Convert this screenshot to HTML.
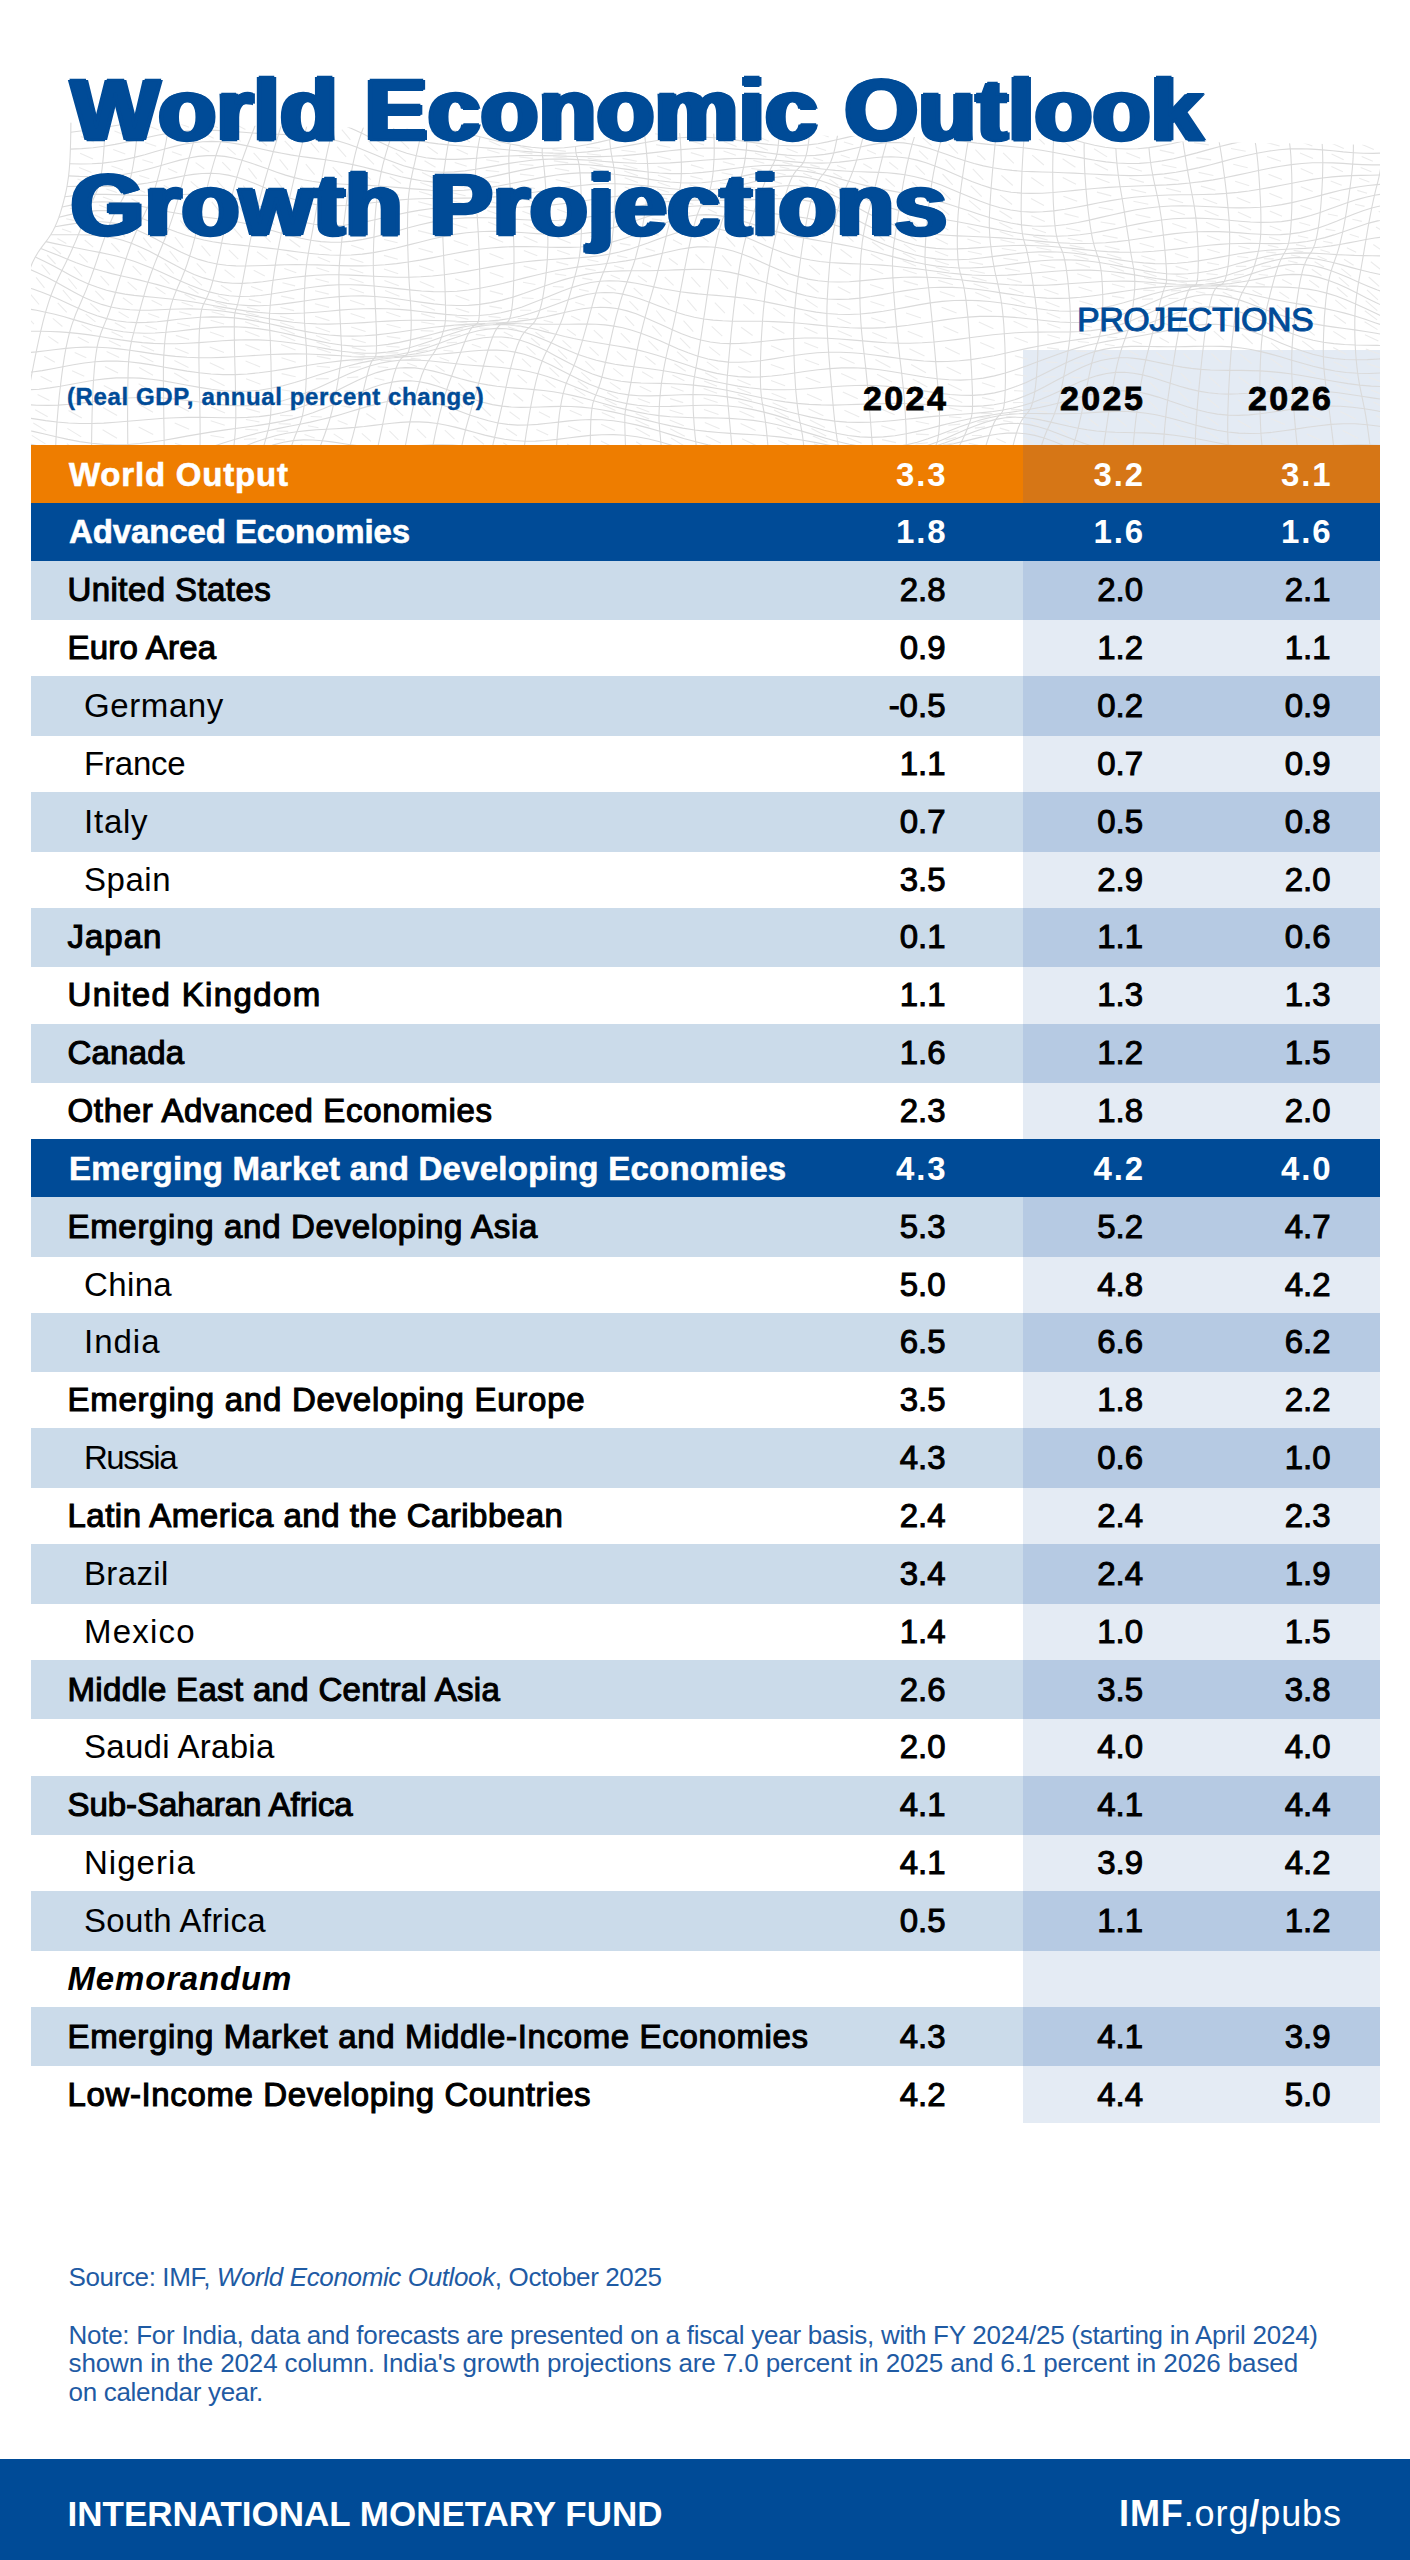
<!DOCTYPE html><html><head><meta charset="utf-8"><style>
*{margin:0;padding:0;box-sizing:border-box}
html,body{width:1410px;height:2560px;overflow:hidden;background:#fff;font-family:"Liberation Sans",sans-serif;color:#000}
.a{position:absolute;white-space:nowrap}
.band{position:absolute;left:31px;width:1349px}
.pb{position:absolute;left:1023px;width:357px}
.row{position:absolute;left:0;width:1410px;height:57.845px;line-height:57.845px;font-size:33px}
.lab{position:absolute;left:67.5px;top:0}
.orange .lab,.blue .lab{left:69px}
.l2 .lab{left:84px}
.n{position:absolute;top:0;text-align:right;width:120px}
.c1{left:825.5px} .c2{left:1023px} .c3{left:1210.5px}
.orange .lab,.blue .lab,.orange .n,.blue .n{color:#fff;font-weight:bold}
.orange .n,.blue .n{letter-spacing:1.8px;margin-left:1.8px}
.l1 .lab{-webkit-text-stroke:1.1px #000}
.l1 .n,.l2 .n{-webkit-text-stroke:1px #000}
.memo .lab{font-weight:bold;font-style:italic}
.orange .lab,.blue .lab{-webkit-text-stroke:0.6px #fff}
</style></head><body>
<div class="a" style="left:1023px;top:350px;width:357px;height:1772.5px;background:#E4EBF4"></div>
<svg class="a" style="left:0;top:0" width="1410" height="450" viewBox="0 0 1410 450"><defs><clipPath id="cp"><polygon points="31,122 1380,145 1380,445 31,445"/></clipPath></defs><g clip-path="url(#cp)" fill="none" stroke="#dadada" stroke-width="1.1"><polyline points="71.0,97.3 82.6,95.2 94.2,93.7 105.7,92.7 117.2,92.4 128.6,92.7 140.0,93.6 151.2,94.8 162.3,96.2 173.3,97.7 184.1,99.0 194.8,100.1 205.4,100.7 215.7,100.8 225.9,100.4 236.0,99.5 245.9,98.3 255.6,96.8 265.1,95.3 274.5,93.9 283.8,92.7 292.9,92.1 301.9,92.0 310.7,92.6 319.5,93.8 328.2,95.7 336.8,98.1 345.4,100.8 354.0,103.9 362.5,107.0 371.1,110.1 379.6,113.0 388.2,115.8 396.9,118.2 405.6,120.4 414.5,122.4 423.4,124.3 432.5,126.1 441.7,128.0 451.0,130.0 460.5,132.1 470.1,134.4 480.0,136.8 489.9,139.3 500.1,141.8 510.4,144.0 520.9,145.9 531.5,147.3 542.3,148.2 553.2,148.3 564.3,147.8 575.5,146.5 586.8,144.7 598.1,142.4 609.6,139.7 621.1,137.0 632.7,134.3 644.3,131.9 655.9,129.9 667.5,128.5 679.0,127.7 690.5,127.4 702.0,127.8 713.4,128.5 724.6,129.5 735.8,130.6 746.8,131.6 757.7,132.4 768.5,132.9 779.1,132.9 789.5,132.3 799.8,131.4 809.9,130.0 819.8,128.3 829.6,126.5 839.2,124.6 848.7,122.9 858.0,121.5 867.2,120.4 876.2,119.7 885.1,119.4 893.9,119.4 902.6,119.7 911.3,120.2 919.9,120.8 928.5,121.3 937.0,121.7 945.5,121.9 954.1,122.0 962.7,121.9 971.3,121.8 980.0,121.6 988.8,121.7 997.7,122.0 1006.7,122.7 1015.9,123.9 1025.2,125.6 1034.6,127.8 1044.2,130.5 1053.9,133.5 1063.8,136.6 1073.9,139.8 1084.2,142.7 1094.6,145.3 1105.1,147.2 1115.9,148.5 1126.7,149.0 1137.8,148.7 1148.9,147.6 1160.1,145.9 1171.5,143.7 1182.9,141.2 1194.4,138.6 1206.0,136.1 1217.6,133.8 1229.2,131.9 1240.8,130.4 1252.3,129.4 1263.9,128.8 1275.4,128.7 1286.8,128.7 1298.1,128.9 1309.3,129.2 1320.3,129.3 1331.3,129.1 1342.1,128.8 1352.8,128.1 1363.3,127.2 1373.6,126.2 1383.8,125.1 1393.8,124.0 1403.6,123.1 1413.3,122.5"/><polyline points="71.0,114.2 82.5,112.2 94.0,110.3 105.5,108.7 116.9,107.5 128.1,106.8 139.3,106.5 150.3,106.7 161.2,107.3 171.9,108.2 182.5,109.2 192.9,110.1 203.2,110.9 213.3,111.4 223.2,111.5 233.0,111.1 242.6,110.3 252.0,109.1 261.3,107.7 270.5,106.1 279.5,104.6 288.4,103.5 297.2,102.7 305.9,102.6 314.6,103.3 323.2,104.7 331.8,106.8 340.3,109.7 348.9,113.2 357.5,117.0 366.1,121.1 374.8,125.2 383.5,129.1 392.4,132.8 401.3,135.9 410.4,138.6 419.6,140.8 428.9,142.6 438.4,143.9 448.0,144.9 457.9,145.7 467.8,146.5 478.0,147.2 488.3,148.1 498.7,149.0 509.4,150.0 520.2,151.0 531.1,151.9 542.2,152.7 553.3,153.1 564.6,153.2 576.0,152.8 587.5,151.9 599.1,150.6 610.6,148.8 622.2,146.8 633.9,144.6 645.5,142.5 657.1,140.5 668.6,138.9 680.1,137.7 691.5,137.1 702.8,137.1 714.0,137.7 725.1,138.7 736.0,140.1 746.8,141.6 757.5,143.1 768.0,144.4 778.3,145.3 788.4,145.8 798.4,145.7 808.2,144.9 817.9,143.7 827.4,141.9 836.7,139.8 846.0,137.6 855.0,135.5 864.0,133.5 872.8,131.9 881.6,130.8 890.3,130.3 898.9,130.4 907.5,131.0 916.1,132.1 924.6,133.6 933.2,135.3 941.8,137.1 950.4,138.8 959.2,140.4 968.0,141.9 976.9,143.1 985.9,144.1 995.0,145.0 1004.3,145.9 1013.7,146.8 1023.3,147.8 1033.1,149.0 1043.0,150.5 1053.0,152.3 1063.3,154.2 1073.7,156.3 1084.3,158.4 1095.0,160.3 1105.9,161.9 1116.9,163.0 1128.0,163.5 1139.3,163.4 1150.6,162.5 1162.1,160.9 1173.6,158.7 1185.2,155.9 1196.8,152.9 1208.4,149.6 1220.0,146.5 1231.6,143.6 1243.2,141.1 1254.7,139.2 1266.1,137.9 1277.5,137.3 1288.7,137.2 1299.8,137.5 1310.8,138.2 1321.7,139.0 1332.4,139.8 1342.9,140.5 1353.3,140.8 1363.5,140.8 1373.6,140.3 1383.5,139.4 1393.2,138.2 1402.8,136.7 1412.2,135.1"/><polyline points="70.8,132.2 82.3,130.8 93.7,129.1 105.0,127.3 116.2,125.5 127.2,123.8 138.2,122.3 149.0,121.1 159.6,120.3 170.1,119.8 180.4,119.7 190.5,119.9 200.5,120.3 210.3,120.7 219.9,121.1 229.4,121.3 238.7,121.2 247.9,120.9 257.0,120.4 266.0,119.6 274.8,118.7 283.6,117.9 292.3,117.2 300.9,117.0 309.5,117.2 318.1,118.1 326.7,119.8 335.3,122.2 343.9,125.2 352.6,128.9 361.4,133.0 370.2,137.4 379.2,141.8 388.2,146.1 397.4,149.9 406.7,153.2 416.2,155.8 425.9,157.7 435.7,158.9 445.6,159.4 455.8,159.4 466.1,158.9 476.6,158.2 487.2,157.3 498.0,156.6 508.9,156.0 520.0,155.6 531.1,155.5 542.5,155.6 553.9,155.8 565.3,156.2 576.9,156.5 588.5,156.6 600.1,156.6 611.8,156.2 623.4,155.6 635.0,154.6 646.6,153.4 658.1,152.1 669.5,150.8 680.9,149.6 692.1,148.7 703.2,148.1 714.2,148.0 725.1,148.3 735.8,149.1 746.3,150.1 756.7,151.4 766.9,152.8 776.9,154.1 786.8,155.1 796.5,155.7 806.0,155.8 815.4,155.4 824.7,154.4 833.8,152.9 842.8,151.1 851.7,149.0 860.5,147.0 869.2,145.1 877.8,143.6 886.4,142.7 895.0,142.5 903.6,142.9 912.2,144.2 920.8,146.1 929.5,148.5 938.2,151.4 947.0,154.5 955.9,157.7 965.0,160.7 974.1,163.5 983.4,165.9 992.8,167.8 1002.4,169.3 1012.1,170.4 1022.0,171.2 1032.1,171.6 1042.3,172.0 1052.7,172.3 1063.3,172.7 1074.0,173.1 1084.9,173.7 1095.9,174.3 1107.1,174.9 1118.3,175.3 1129.7,175.6 1141.1,175.5 1152.7,174.9 1164.3,173.9 1175.9,172.3 1187.5,170.1 1199.2,167.6 1210.8,164.7 1222.4,161.6 1233.9,158.5 1245.4,155.7 1256.8,153.2 1268.0,151.2 1279.2,149.7 1290.3,148.9 1301.2,148.8 1311.9,149.1 1322.5,149.9 1332.9,150.8 1343.2,151.9 1353.3,152.7 1363.2,153.3 1373.0,153.4 1382.6,153.0 1392.1,152.1 1401.4,150.6 1410.5,148.7"/><polyline points="70.4,149.1 81.7,148.6 93.0,147.7 104.1,146.2 115.1,144.4 125.9,142.2 136.6,139.9 147.1,137.5 157.4,135.3 167.6,133.4 177.6,131.9 187.5,130.9 197.2,130.3 206.7,130.2 216.1,130.4 225.3,130.9 234.4,131.6 243.4,132.3 252.3,133.0 261.1,133.5 269.8,134.0 278.5,134.3 287.1,134.6 295.7,134.9 304.3,135.4 313.0,136.2 321.6,137.4 330.3,139.1 339.1,141.3 347.9,144.1 356.9,147.3 366.0,150.9 375.2,154.8 384.5,158.7 394.0,162.3 403.6,165.7 413.4,168.4 423.4,170.5 433.5,171.7 443.8,172.2 454.3,171.9 464.9,170.9 475.7,169.3 486.6,167.4 497.7,165.4 508.9,163.4 520.2,161.7 531.6,160.3 543.1,159.4 554.6,159.0 566.3,159.1 577.9,159.6 589.6,160.3 601.2,161.2 612.9,162.1 624.5,162.8 636.0,163.3 647.5,163.5 658.9,163.3 670.1,162.9 681.3,162.1 692.3,161.3 703.2,160.3 714.0,159.5 724.5,158.9 735.0,158.5 745.2,158.4 755.3,158.7 765.2,159.3 775.0,160.1 784.6,161.0 794.0,161.9 803.3,162.6 812.4,163.0 821.5,163.1 830.4,162.8 839.2,162.1 848.0,161.1 856.7,160.0 865.3,158.8 873.9,157.7 882.5,157.0 891.1,156.8 899.8,157.2 908.5,158.3 917.2,160.1 926.0,162.7 934.9,165.9 944.0,169.6 953.1,173.6 962.4,177.6 971.8,181.5 981.4,185.1 991.1,188.1 1001.0,190.5 1011.1,192.2 1021.3,193.1 1031.7,193.4 1042.3,193.2 1053.0,192.5 1063.9,191.5 1074.9,190.4 1086.0,189.3 1097.3,188.3 1108.7,187.4 1120.1,186.8 1131.7,186.3 1143.3,185.8 1154.9,185.4 1166.6,184.9 1178.2,184.1 1189.9,183.0 1201.5,181.6 1213.1,179.9 1224.6,177.8 1236.0,175.4 1247.3,173.0 1258.5,170.5 1269.6,168.2 1280.5,166.2 1291.3,164.6 1302.0,163.5 1312.5,162.8 1322.8,162.7 1332.9,162.9 1342.9,163.4 1352.7,164.1 1362.4,164.6 1371.9,164.9 1381.2,164.9 1390.4,164.4 1399.5,163.3 1408.5,161.6"/><polyline points="69.7,163.7 80.8,164.0 91.9,163.8 102.7,163.1 113.5,161.7 124.0,159.8 134.4,157.4 144.7,154.7 154.7,151.8 164.6,149.0 174.4,146.4 183.9,144.3 193.4,142.7 202.6,141.7 211.8,141.4 220.8,141.8 229.7,142.7 238.6,144.1 247.3,145.9 256.0,147.8 264.7,149.7 273.3,151.6 281.9,153.3 290.6,154.9 299.2,156.2 307.9,157.4 316.7,158.6 325.6,159.8 334.6,161.2 343.6,162.8 352.8,164.6 362.2,166.7 371.6,169.1 381.3,171.6 391.1,174.2 401.0,176.7 411.2,178.9 421.4,180.7 431.9,181.9 442.5,182.4 453.3,182.3 464.2,181.4 475.3,179.9 486.5,177.8 497.8,175.4 509.2,172.9 520.7,170.4 532.3,168.1 543.9,166.3 555.6,165.0 567.3,164.4 579.0,164.4 590.6,165.0 602.3,166.1 613.8,167.5 625.4,169.1 636.8,170.6 648.1,172.0 659.3,173.0 670.4,173.6 681.3,173.6 692.1,173.2 702.7,172.4 713.2,171.2 723.5,169.9 733.6,168.5 743.6,167.2 753.4,166.2 763.0,165.5 772.5,165.2 781.8,165.4 791.0,165.8 800.1,166.6 809.1,167.5 817.9,168.5 826.7,169.5 835.4,170.4 844.1,171.0 852.7,171.5 861.4,171.8 870.0,172.1 878.6,172.4 887.3,172.8 896.1,173.6 904.9,174.8 913.8,176.5 922.9,178.8 932.0,181.7 941.3,185.1 950.7,188.9 960.3,193.0 970.0,197.1 979.9,201.1 990.0,204.7 1000.2,207.7 1010.6,210.0 1021.1,211.5 1031.9,212.1 1042.7,211.8 1053.8,210.9 1064.9,209.3 1076.2,207.3 1087.5,205.1 1099.0,202.8 1110.6,200.6 1122.2,198.8 1133.8,197.3 1145.5,196.2 1157.2,195.5 1168.9,195.0 1180.5,194.8 1192.1,194.7 1203.7,194.5 1215.1,194.1 1226.5,193.4 1237.7,192.4 1248.8,191.0 1259.8,189.3 1270.7,187.4 1281.4,185.3 1291.9,183.2 1302.3,181.2 1312.4,179.4 1322.5,178.0 1332.3,176.9 1342.0,176.1 1351.6,175.6 1361.0,175.4 1370.2,175.2 1379.4,175.0 1388.4,174.7 1397.3,174.0 1406.1,173.0"/><polyline points="68.6,175.9 79.5,176.4 90.3,176.6 100.9,176.5 111.3,175.9 121.6,174.7 131.7,173.0 141.7,170.8 151.4,168.2 161.1,165.5 170.5,162.7 179.9,160.1 189.0,158.0 198.1,156.4 207.1,155.6 215.9,155.6 224.7,156.4 233.5,158.0 242.1,160.2 250.8,162.9 259.4,166.0 268.1,169.1 276.8,172.2 285.5,175.1 294.3,177.6 303.2,179.7 312.1,181.3 321.2,182.6 330.4,183.4 339.7,184.0 349.2,184.5 358.8,184.9 368.6,185.4 378.6,186.0 388.7,186.8 399.0,187.6 409.5,188.6 420.1,189.4 430.9,190.2 441.8,190.6 452.9,190.7 464.1,190.3 475.4,189.3 486.8,187.9 498.3,186.0 509.9,183.8 521.5,181.5 533.2,179.1 544.9,176.9 556.6,175.0 568.3,173.6 580.0,172.9 591.6,172.7 603.1,173.2 614.6,174.3 625.9,175.7 637.2,177.4 648.3,179.1 659.3,180.7 670.1,182.0 680.8,182.8 691.3,183.0 701.6,182.7 711.8,181.7 721.8,180.2 731.7,178.4 741.4,176.4 750.9,174.4 760.3,172.7 769.5,171.2 778.6,170.3 787.6,170.0 796.5,170.3 805.3,171.2 814.1,172.6 822.8,174.5 831.4,176.6 840.1,178.9 848.7,181.3 857.4,183.5 866.1,185.6 874.9,187.6 883.7,189.4 892.6,191.1 901.7,192.8 910.8,194.6 920.1,196.6 929.5,198.8 939.1,201.4 948.8,204.3 958.7,207.5 968.8,210.8 979.0,214.2 989.4,217.5 999.9,220.5 1010.7,223.0 1021.5,224.9 1032.5,226.0 1043.7,226.3 1055.0,225.7 1066.4,224.5 1077.8,222.5 1089.4,220.1 1101.0,217.4 1112.7,214.7 1124.4,212.1 1136.1,209.8 1147.8,208.0 1159.5,206.7 1171.1,206.0 1182.7,205.8 1194.2,206.0 1205.5,206.5 1216.8,207.0 1228.0,207.6 1239.0,207.9 1249.9,207.8 1260.7,207.2 1271.2,206.2 1281.6,204.6 1291.9,202.6 1302.0,200.2 1311.9,197.7 1321.6,195.1 1331.2,192.6 1340.6,190.3 1349.9,188.4 1359.1,186.8 1368.1,185.5 1377.1,184.6 1385.9,183.9 1394.7,183.4 1403.4,182.9"/><polyline points="67.0,186.5 77.6,186.4 88.1,186.5 98.4,186.5 108.6,186.4 118.6,186.1 128.4,185.4 138.1,184.4 147.6,183.0 157.0,181.3 166.2,179.5 175.3,177.6 184.3,175.8 193.2,174.4 202.0,173.5 210.8,173.2 219.5,173.7 228.2,175.1 236.9,177.2 245.5,179.9 254.2,183.3 263.0,187.0 271.8,190.8 280.6,194.5 289.6,197.9 298.7,200.8 307.9,203.1 317.2,204.7 326.7,205.6 336.3,205.8 346.1,205.4 356.1,204.6 366.2,203.5 376.5,202.3 386.9,201.1 397.5,200.1 408.3,199.3 419.3,198.8 430.3,198.5 441.5,198.3 452.8,198.2 464.3,198.1 475.8,197.9 487.4,197.4 499.0,196.6 510.7,195.5 522.5,194.0 534.2,192.3 545.9,190.5 557.6,188.6 569.2,186.9 580.8,185.5 592.3,184.4 603.7,183.8 615.0,183.8 626.1,184.2 637.2,185.0 648.0,186.1 658.7,187.3 669.3,188.5 679.7,189.5 689.9,190.1 700.0,190.3 709.9,189.8 719.6,188.8 729.2,187.3 738.6,185.4 747.9,183.2 757.1,181.0 766.1,179.0 775.0,177.4 783.9,176.4 792.7,176.1 801.4,176.6 810.1,178.0 818.7,180.1 827.4,182.9 836.1,186.2 844.8,189.9 853.6,193.8 862.4,197.6 871.4,201.3 880.4,204.7 889.6,207.8 898.8,210.4 908.3,212.7 917.8,214.8 927.6,216.6 937.4,218.3 947.5,220.0 957.7,221.8 968.1,223.7 978.7,225.8 989.4,227.9 1000.2,230.0 1011.3,232.0 1022.4,233.7 1033.7,235.1 1045.1,235.9 1056.6,236.2 1068.1,235.8 1079.8,234.8 1091.4,233.2 1103.2,231.1 1114.9,228.8 1126.6,226.3 1138.3,223.9 1150.0,221.8 1161.6,220.0 1173.1,218.8 1184.5,218.2 1195.9,218.1 1207.1,218.5 1218.1,219.3 1229.1,220.3 1239.9,221.2 1250.5,222.0 1260.9,222.4 1271.2,222.3 1281.4,221.6 1291.3,220.1 1301.1,218.1 1310.7,215.5 1320.2,212.4 1329.6,209.1 1338.8,205.8 1347.8,202.6 1356.8,199.6 1365.7,197.2 1374.5,195.2 1383.3,193.8 1392.0,193.0 1400.6,192.7"/><polyline points="64.8,196.7 75.2,195.5 85.4,194.8 95.5,194.4 105.3,194.4 115.0,194.6 124.6,194.9 134.0,195.2 143.3,195.4 152.4,195.5 161.5,195.3 170.4,195.0 179.3,194.7 188.1,194.3 196.8,194.1 205.5,194.2 214.2,194.7 222.9,195.7 231.6,197.3 240.3,199.6 249.2,202.3 258.0,205.6 267.0,209.2 276.1,212.8 285.3,216.4 294.6,219.6 304.1,222.3 313.7,224.2 323.5,225.4 333.5,225.7 343.6,225.2 353.9,224.0 364.3,222.1 374.9,219.8 385.7,217.3 396.6,214.8 407.7,212.4 418.9,210.4 430.2,208.8 441.7,207.7 453.2,207.0 464.8,206.7 476.5,206.8 488.2,206.9 499.9,207.1 511.7,207.2 523.4,207.0 535.1,206.4 546.8,205.6 558.4,204.3 569.9,202.9 581.4,201.2 592.7,199.5 603.9,197.9 615.0,196.5 625.9,195.4 636.6,194.7 647.2,194.3 657.7,194.3 668.0,194.5 678.1,194.9 688.0,195.3 697.8,195.5 707.4,195.5 716.9,195.2 726.2,194.4 735.4,193.3 744.5,191.9 753.5,190.3 762.3,188.7 771.1,187.2 779.9,186.1 788.6,185.5 797.3,185.7 806.0,186.7 814.7,188.6 823.4,191.3 832.2,194.8 841.1,199.0 850.0,203.6 859.1,208.5 868.2,213.4 877.5,218.0 886.9,222.3 896.5,226.0 906.2,229.0 916.1,231.5 926.1,233.2 936.4,234.5 946.7,235.3 957.3,235.9 968.0,236.3 978.9,236.7 989.9,237.3 1001.0,237.9 1012.3,238.8 1023.7,239.8 1035.2,240.9 1046.8,241.9 1058.4,242.7 1070.1,243.3 1081.9,243.5 1093.6,243.3 1105.4,242.7 1117.1,241.6 1128.8,240.2 1140.4,238.5 1152.0,236.8 1163.4,235.1 1174.8,233.6 1186.0,232.5 1197.2,231.7 1208.1,231.5 1219.0,231.6 1229.6,232.1 1240.1,232.9 1250.5,233.7 1260.7,234.3 1270.7,234.7 1280.5,234.6 1290.2,233.9 1299.7,232.6 1309.1,230.5 1318.3,227.9 1327.5,224.7 1336.5,221.2 1345.4,217.5 1354.2,214.0 1363.0,210.8 1371.7,208.0 1380.4,205.9 1389.1,204.6 1397.8,204.1"/><polyline points="62.1,207.0 72.2,204.9 82.1,203.3 91.9,202.2 101.5,201.8 111.0,202.1 120.3,202.9 129.5,204.2 138.5,205.8 147.5,207.6 156.4,209.4 165.2,211.2 174.0,212.8 182.7,214.2 191.4,215.4 200.1,216.5 208.9,217.6 217.6,218.7 226.5,220.0 235.4,221.5 244.3,223.3 253.4,225.4 262.6,227.9 272.0,230.5 281.4,233.2 291.1,235.9 300.9,238.3 310.8,240.2 320.9,241.6 331.2,242.2 341.6,242.1 352.2,241.1 363.0,239.4 373.9,237.1 385.0,234.2 396.2,231.2 407.5,228.0 419.0,225.0 430.5,222.4 442.1,220.3 453.8,218.8 465.5,217.9 477.3,217.6 489.1,217.8 500.8,218.4 512.6,219.1 524.3,219.8 535.9,220.3 547.5,220.5 559.0,220.2 570.3,219.4 581.6,218.1 592.7,216.3 603.6,214.1 614.4,211.8 625.1,209.3 635.6,207.0 645.9,204.9 656.1,203.2 666.0,201.8 675.9,200.9 685.5,200.3 695.0,200.1 704.4,200.1 713.7,200.2 722.8,200.3 731.8,200.3 740.7,200.2 749.5,199.9 758.3,199.5 767.1,199.1 775.8,198.8 784.5,198.7 793.2,199.0 802.0,199.9 810.8,201.4 819.6,203.6 828.6,206.6 837.6,210.3 846.8,214.6 856.1,219.4 865.5,224.4 875.1,229.3 884.8,234.1 894.7,238.4 904.7,242.1 914.9,245.0 925.3,247.1 935.8,248.4 946.5,249.0 957.4,248.9 968.4,248.4 979.6,247.6 990.9,246.7 1002.2,246.0 1013.8,245.5 1025.3,245.4 1037.0,245.7 1048.7,246.3 1060.5,247.3 1072.2,248.4 1084.0,249.6 1095.8,250.7 1107.5,251.6 1119.1,252.1 1130.7,252.3 1142.2,252.0 1153.6,251.3 1164.9,250.3 1176.1,249.1 1187.1,247.8 1198.0,246.5 1208.7,245.3 1219.3,244.4 1229.6,243.8 1239.9,243.5 1249.9,243.4 1259.8,243.5 1269.5,243.6 1279.1,243.6 1288.5,243.3 1297.8,242.6 1307.0,241.5 1316.0,239.8 1325.0,237.6 1333.9,234.9 1342.7,232.0 1351.4,228.9 1360.1,225.9 1368.8,223.1 1377.6,220.9 1386.3,219.3 1395.1,218.5"/><polyline points="58.9,217.2 68.7,214.9 78.3,212.8 87.8,211.4 97.2,210.6 106.4,210.6 115.5,211.5 124.5,213.2 133.5,215.6 142.3,218.6 151.1,221.9 159.9,225.4 168.6,228.9 177.3,232.2 186.1,235.2 194.8,237.8 203.7,240.0 212.6,241.7 221.6,243.1 230.7,244.2 239.9,245.1 249.2,246.0 258.7,247.0 268.3,248.1 278.1,249.3 288.0,250.6 298.1,252.0 308.4,253.2 318.9,254.3 329.5,255.0 340.2,255.3 351.1,255.0 362.2,254.1 373.4,252.6 384.8,250.5 396.2,248.0 407.7,245.1 419.4,242.2 431.1,239.3 442.8,236.6 454.6,234.4 466.4,232.8 478.2,231.7 490.0,231.3 501.7,231.4 513.3,232.0 524.9,232.8 536.4,233.6 547.8,234.3 559.1,234.7 570.3,234.5 581.3,233.8 592.1,232.4 602.8,230.3 613.4,227.6 623.7,224.6 634.0,221.2 644.0,217.8 653.9,214.6 663.6,211.7 673.1,209.3 682.5,207.5 691.8,206.3 701.0,205.8 710.0,205.9 719.0,206.4 727.9,207.4 736.7,208.5 745.4,209.8 754.2,211.1 762.9,212.3 771.6,213.4 780.4,214.5 789.2,215.7 798.1,216.9 807.1,218.3 816.1,220.1 825.3,222.3 834.6,225.0 844.0,228.1 853.5,231.7 863.3,235.7 873.1,239.9 883.2,244.1 893.4,248.1 903.8,251.7 914.3,254.8 925.0,257.3 935.9,258.9 946.9,259.7 958.0,259.8 969.3,259.2 980.7,258.0 992.2,256.6 1003.8,255.1 1015.5,253.7 1027.2,252.5 1039.0,251.9 1050.8,251.8 1062.6,252.2 1074.4,253.2 1086.1,254.7 1097.8,256.4 1109.4,258.3 1121.0,260.1 1132.4,261.7 1143.7,262.9 1154.9,263.6 1166.0,263.7 1176.9,263.2 1187.7,262.3 1198.3,260.9 1208.7,259.2 1219.0,257.4 1229.1,255.5 1239.0,253.8 1248.8,252.4 1258.4,251.2 1267.9,250.3 1277.2,249.7 1286.4,249.2 1295.5,248.8 1304.5,248.4 1313.4,247.8 1322.2,247.0 1331.0,245.9 1339.8,244.5 1348.5,242.9 1357.2,241.2 1366.0,239.5 1374.8,238.0 1383.6,236.9 1392.6,236.3"/><polyline points="55.0,226.7 64.6,225.1 74.0,223.6 83.3,222.4 92.4,221.7 101.5,221.7 110.4,222.5 119.3,224.1 128.1,226.7 136.9,230.0 145.7,233.9 154.4,238.3 163.2,243.0 172.0,247.6 180.8,252.0 189.7,256.0 198.7,259.4 207.8,262.0 217.0,264.0 226.4,265.2 235.9,265.9 245.5,266.0 255.3,265.8 265.2,265.5 275.3,265.1 285.6,264.8 296.0,264.6 306.6,264.7 317.4,264.9 328.3,265.3 339.3,265.6 350.6,265.9 361.9,265.9 373.3,265.5 384.9,264.8 396.5,263.6 408.2,262.0 420.0,260.1 431.8,257.9 443.6,255.5 455.4,253.2 467.2,251.1 479.0,249.3 490.7,248.0 502.3,247.1 513.9,246.6 525.3,246.6 536.6,246.8 547.8,247.2 558.9,247.4 569.8,247.4 580.5,247.0 591.1,246.0 601.5,244.4 611.8,242.1 621.8,239.3 631.8,235.9 641.5,232.2 651.1,228.3 660.6,224.6 669.9,221.2 679.1,218.4 688.2,216.3 697.2,215.0 706.1,214.6 714.9,215.1 723.7,216.4 732.5,218.3 741.2,220.7 750.0,223.4 758.8,226.2 767.6,229.0 776.5,231.6 785.5,234.0 794.5,236.1 803.7,237.9 813.0,239.6 822.4,241.2 831.9,242.8 841.7,244.6 851.5,246.5 861.6,248.7 871.8,251.2 882.1,253.8 892.7,256.6 903.4,259.4 914.2,262.0 925.2,264.2 936.4,266.1 947.7,267.3 959.1,268.0 970.6,268.0 982.2,267.4 993.9,266.4 1005.6,265.0 1017.4,263.4 1029.2,262.0 1041.1,260.8 1052.9,260.0 1064.6,259.7 1076.4,260.1 1088.0,261.0 1099.6,262.5 1111.1,264.5 1122.4,266.6 1133.7,268.8 1144.8,270.9 1155.8,272.5 1166.6,273.7 1177.2,274.1 1187.7,273.8 1198.0,272.8 1208.2,271.2 1218.1,269.0 1228.0,266.5 1237.6,263.8 1247.1,261.1 1256.5,258.7 1265.8,256.6 1274.9,254.9 1283.9,253.8 1292.8,253.1 1301.7,252.9 1310.5,253.1 1319.3,253.5 1328.1,254.0 1336.8,254.6 1345.6,255.0 1354.4,255.4 1363.3,255.6 1372.2,255.7 1381.2,255.9 1390.3,256.1"/><polyline points="50.7,234.8 60.0,234.8 69.2,234.8 78.3,234.8 87.3,234.9 96.2,235.4 105.1,236.4 113.9,238.0 122.6,240.2 131.4,243.2 140.2,246.9 149.0,251.1 157.9,255.8 166.8,260.7 175.8,265.6 184.9,270.2 194.1,274.4 203.5,277.9 212.9,280.5 222.6,282.4 232.3,283.3 242.3,283.4 252.4,282.8 262.6,281.7 273.1,280.3 283.7,278.8 294.4,277.3 305.3,276.1 316.4,275.3 327.6,274.8 338.9,274.8 350.4,275.1 362.0,275.6 373.6,276.3 385.3,276.8 397.1,277.2 408.9,277.2 420.8,276.8 432.6,276.0 444.4,274.7 456.2,273.0 467.9,271.1 479.6,269.0 491.2,266.9 502.6,265.0 514.0,263.2 525.2,261.8 536.3,260.6 547.3,259.7 558.1,259.0 568.7,258.4 579.2,257.8 589.5,256.9 599.6,255.7 609.6,254.1 619.4,252.0 629.0,249.4 638.5,246.3 647.9,243.1 657.1,239.6 666.2,236.3 675.3,233.3 684.2,230.9 693.1,229.1 701.9,228.2 710.7,228.3 719.5,229.3 728.3,231.3 737.1,234.0 745.9,237.3 754.8,241.1 763.8,244.9 772.8,248.7 782.0,252.3 791.3,255.4 800.7,258.0 810.3,260.0 820.0,261.5 829.8,262.5 839.9,263.1 850.1,263.6 860.4,264.0 871.0,264.5 881.7,265.1 892.5,266.0 903.5,267.2 914.7,268.5 926.0,270.0 937.4,271.5 948.9,273.0 960.5,274.1 972.2,275.0 984.0,275.5 995.8,275.5 1007.6,275.1 1019.4,274.3 1031.3,273.3 1043.1,272.2 1054.8,271.2 1066.5,270.5 1078.1,270.1 1089.7,270.1 1101.1,270.7 1112.4,271.7 1123.5,273.1 1134.5,274.9 1145.4,276.7 1156.1,278.5 1166.6,279.9 1177.0,280.9 1187.1,281.2 1197.2,280.9 1207.0,279.7 1216.8,277.9 1226.3,275.5 1235.7,272.6 1245.0,269.4 1254.2,266.3 1263.2,263.4 1272.2,260.9 1281.1,259.0 1290.0,257.9 1298.8,257.5 1307.5,257.9 1316.3,259.0 1325.1,260.7 1333.9,262.8 1342.8,265.1 1351.7,267.6 1360.8,270.0 1369.9,272.2 1379.1,274.2 1388.5,275.9"/><polyline points="45.9,241.6 55.0,243.6 64.1,245.5 73.0,247.3 81.9,249.0 90.7,250.7 99.5,252.4 108.3,254.2 117.1,256.3 126.0,258.7 134.8,261.6 143.8,264.9 152.8,268.6 161.9,272.6 171.1,276.8 180.5,281.1 189.9,285.1 199.6,288.8 209.3,291.9 219.2,294.2 229.3,295.8 239.6,296.5 250.0,296.3 260.6,295.5 271.4,294.0 282.3,292.2 293.4,290.2 304.6,288.3 315.9,286.7 327.4,285.4 338.9,284.8 350.6,284.7 362.3,285.1 374.1,286.0 385.9,287.3 397.8,288.6 409.7,289.9 421.5,291.0 433.3,291.6 445.1,291.7 456.8,291.2 468.4,290.0 479.9,288.3 491.3,286.0 502.6,283.5 513.7,280.7 524.7,277.9 535.6,275.2 546.2,272.7 556.8,270.5 567.1,268.7 577.3,267.1 587.3,265.8 597.1,264.7 606.8,263.5 616.4,262.3 625.8,260.9 635.1,259.3 644.2,257.4 653.3,255.4 662.3,253.3 671.2,251.2 680.0,249.3 688.8,247.9 697.6,246.9 706.4,246.7 715.2,247.3 724.1,248.8 733.0,251.0 742.0,254.0 751.1,257.6 760.2,261.6 769.5,265.7 778.9,269.7 788.5,273.4 798.2,276.6 808.1,279.1 818.1,280.8 828.3,281.8 838.7,282.0 849.2,281.7 859.9,280.9 870.7,279.9 881.7,278.8 892.9,277.9 904.2,277.2 915.6,277.0 927.1,277.2 938.8,277.8 950.5,278.8 962.2,280.0 974.0,281.4 985.9,282.7 997.8,283.9 1009.6,284.8 1021.4,285.3 1033.2,285.4 1044.9,285.2 1056.6,284.6 1068.2,283.8 1079.6,283.0 1090.9,282.2 1102.1,281.5 1113.2,281.2 1124.1,281.1 1134.8,281.4 1145.4,282.0 1155.8,282.8 1166.0,283.6 1176.1,284.3 1186.0,284.7 1195.8,284.7 1205.4,284.2 1214.9,283.1 1224.2,281.4 1233.4,279.3 1242.5,276.7 1251.5,273.9 1260.4,271.1 1269.3,268.5 1278.1,266.4 1286.9,264.9 1295.7,264.3 1304.5,264.6 1313.4,265.8 1322.2,267.9 1331.2,270.8 1340.2,274.2 1349.4,278.1 1358.6,282.2 1368.0,286.2 1377.5,290.0 1387.1,293.4"/><polyline points="40.8,248.4 49.7,251.9 58.7,255.6 67.5,259.3 76.3,262.8 85.2,265.9 94.0,268.8 102.8,271.3 111.7,273.6 120.7,275.7 129.7,277.8 138.8,279.9 148.0,282.2 157.4,284.6 166.8,287.3 176.5,290.1 186.2,293.1 196.2,296.1 206.2,298.9 216.5,301.3 226.9,303.4 237.5,304.8 248.3,305.6 259.2,305.7 270.2,305.2 281.5,304.1 292.8,302.6 304.3,301.0 315.8,299.3 327.5,297.8 339.2,296.6 351.0,296.0 362.9,295.9 374.8,296.5 386.6,297.5 398.5,299.0 410.4,300.7 422.2,302.4 433.9,303.9 445.5,305.0 457.1,305.5 468.5,305.4 479.8,304.4 491.0,302.6 502.1,300.1 513.0,297.1 523.7,293.6 534.2,289.8 544.6,286.1 554.9,282.6 564.9,279.4 574.8,276.7 584.6,274.6 594.1,273.0 603.6,271.9 612.9,271.3 622.1,270.9 631.2,270.8 640.2,270.8 649.2,270.7 658.0,270.5 666.9,270.2 675.7,269.9 684.5,269.6 693.3,269.4 702.2,269.4 711.1,269.8 720.1,270.7 729.2,272.1 738.4,274.1 747.7,276.7 757.1,279.7 766.7,283.1 776.4,286.6 786.2,290.0 796.3,293.1 806.4,295.8 816.8,297.8 827.3,299.0 838.0,299.4 848.9,299.1 859.9,298.1 871.0,296.5 882.3,294.6 893.7,292.5 905.3,290.6 916.9,289.0 928.6,287.8 940.4,287.3 952.2,287.4 964.1,288.0 976.0,289.2 987.8,290.8 999.7,292.6 1011.5,294.4 1023.3,296.0 1035.0,297.3 1046.6,298.1 1058.0,298.4 1069.4,298.1 1080.6,297.3 1091.7,296.0 1102.7,294.5 1113.5,292.9 1124.1,291.2 1134.6,289.7 1144.9,288.4 1155.0,287.4 1164.9,286.6 1174.7,286.2 1184.4,285.9 1193.9,285.7 1203.3,285.5 1212.5,285.1 1221.6,284.4 1230.7,283.5 1239.6,282.2 1248.5,280.7 1257.4,279.1 1266.2,277.4 1275.0,276.0 1283.9,274.9 1292.7,274.4 1301.6,274.6 1310.6,275.6 1319.6,277.6 1328.8,280.4 1338.0,284.1 1347.4,288.3 1356.9,293.0 1366.5,298.0 1376.3,302.8 1386.3,307.4"/><polyline points="35.3,257.0 44.2,261.2 53.1,265.8 61.9,270.6 70.8,275.4 79.6,279.9 88.5,283.9 97.5,287.3 106.5,290.2 115.6,292.4 124.9,294.1 134.2,295.4 143.7,296.4 153.3,297.2 163.1,298.2 173.0,299.2 183.1,300.5 193.3,302.0 203.7,303.8 214.3,305.7 225.1,307.6 236.0,309.4 247.0,311.1 258.3,312.4 269.6,313.2 281.1,313.6 292.6,313.5 304.3,313.0 316.1,312.2 327.9,311.2 339.7,310.1 351.6,309.3 363.5,308.7 375.4,308.5 387.3,308.7 399.1,309.4 410.9,310.4 422.6,311.7 434.2,313.1 445.7,314.4 457.0,315.3 468.2,315.8 479.3,315.5 490.3,314.5 501.0,312.7 511.6,310.2 522.1,306.9 532.3,303.1 542.5,299.1 552.4,295.0 562.2,291.1 571.8,287.6 581.3,284.7 590.7,282.5 599.9,281.2 609.0,280.7 618.1,281.0 627.1,281.9 636.0,283.3 644.8,285.0 653.7,286.9 662.5,288.7 671.4,290.3 680.3,291.8 689.2,292.9 698.2,293.9 707.3,294.7 716.5,295.4 725.7,296.2 735.2,297.1 744.7,298.3 754.4,299.8 764.3,301.6 774.3,303.6 784.5,305.8 794.9,308.1 805.4,310.2 816.1,312.1 826.9,313.5 837.9,314.3 849.1,314.5 860.4,314.0 871.8,312.9 883.3,311.3 895.0,309.3 906.7,307.1 918.5,304.9 930.3,302.9 942.2,301.4 954.1,300.5 966.0,300.2 977.9,300.6 989.7,301.5 1001.5,303.0 1013.2,304.8 1024.9,306.7 1036.4,308.5 1047.8,310.0 1059.1,311.0 1070.2,311.3 1081.2,310.9 1092.0,309.7 1102.7,307.9 1113.2,305.5 1123.6,302.7 1133.7,299.7 1143.7,296.6 1153.6,293.8 1163.3,291.3 1172.8,289.2 1182.2,287.6 1191.5,286.6 1200.7,286.0 1209.8,285.8 1218.8,285.9 1227.7,286.2 1236.6,286.4 1245.4,286.7 1254.3,286.9 1263.1,286.9 1272.0,287.0 1280.9,287.1 1289.9,287.4 1298.9,288.0 1308.1,289.1 1317.3,290.7 1326.7,293.1 1336.2,296.0 1345.8,299.7 1355.6,303.9 1365.6,308.5 1375.7,313.3 1386.0,318.1"/><polyline points="29.7,269.4 38.6,273.2 47.4,277.5 56.3,282.3 65.2,287.3 74.2,292.2 83.2,296.9 92.4,300.9 101.6,304.4 110.9,307.0 120.4,308.8 130.0,309.8 139.8,310.3 149.7,310.2 159.8,309.8 170.0,309.3 180.5,309.0 191.0,308.9 201.8,309.2 212.7,310.0 223.8,311.2 235.0,312.9 246.3,314.8 257.8,316.8 269.4,318.8 281.0,320.6 292.8,322.2 304.6,323.3 316.5,323.9 328.4,324.1 340.4,323.8 352.3,323.3 364.2,322.6 376.0,321.8 387.8,321.1 399.5,320.5 411.2,320.2 422.7,320.2 434.1,320.5 445.4,320.8 456.5,321.3 467.5,321.5 478.3,321.5 488.9,321.1 499.4,320.1 509.7,318.5 519.9,316.3 529.9,313.5 539.7,310.3 549.4,306.8 558.9,303.2 568.3,299.8 577.6,296.9 586.8,294.5 595.9,293.0 604.9,292.5 613.8,292.8 622.7,294.1 631.6,296.3 640.4,299.0 649.3,302.2 658.2,305.7 667.1,309.1 676.2,312.2 685.3,315.0 694.4,317.3 703.7,319.0 713.2,320.1 722.7,320.8 732.4,321.2 742.3,321.2 752.3,321.3 762.5,321.3 772.8,321.6 783.3,322.1 794.0,322.8 804.9,323.8 815.9,324.9 827.0,326.0 838.3,327.0 849.7,327.7 861.3,328.1 872.9,328.1 884.7,327.6 896.5,326.6 908.3,325.2 920.2,323.5 932.2,321.7 944.1,319.9 956.0,318.3 967.9,317.1 979.7,316.4 991.4,316.2 1003.1,316.6 1014.7,317.4 1026.1,318.5 1037.4,319.8 1048.6,321.0 1059.7,322.0 1070.5,322.5 1081.3,322.4 1091.8,321.5 1102.2,319.8 1112.4,317.3 1122.5,314.2 1132.4,310.5 1142.1,306.6 1151.7,302.5 1161.1,298.6 1170.5,295.1 1179.7,292.2 1188.8,290.1 1197.8,288.7 1206.8,288.2 1215.7,288.4 1224.6,289.3 1233.4,290.7 1242.3,292.5 1251.2,294.5 1260.1,296.5 1269.1,298.5 1278.1,300.3 1287.3,302.0 1296.5,303.6 1305.9,305.1 1315.4,306.8 1325.1,308.6 1334.9,310.7 1344.8,313.1 1354.9,316.0 1365.2,319.3 1375.7,322.9 1386.3,326.7"/><polyline points="24.0,286.5 32.9,289.0 41.9,292.2 50.8,295.8 59.9,299.8 69.0,304.0 78.3,308.2 87.6,312.2 97.1,315.7 106.7,318.6 116.5,320.7 126.4,322.0 136.5,322.6 146.7,322.4 157.1,321.7 167.7,320.6 178.4,319.3 189.3,318.2 200.4,317.3 211.6,316.9 222.9,317.1 234.4,317.9 246.0,319.4 257.7,321.4 269.5,323.8 281.3,326.4 293.2,329.0 305.1,331.4 317.1,333.5 329.0,335.0 340.9,335.9 352.8,336.1 364.7,335.8 376.4,334.9 388.1,333.5 399.6,332.0 411.1,330.3 422.4,328.7 433.6,327.3 444.6,326.1 455.5,325.1 466.2,324.4 476.7,323.9 487.1,323.5 497.3,323.0 507.3,322.3 517.2,321.4 526.9,320.1 536.5,318.6 545.9,316.7 555.2,314.6 564.4,312.5 573.6,310.5 582.6,308.8 591.6,307.7 600.5,307.2 609.4,307.6 618.3,308.8 627.1,310.9 636.1,313.8 645.0,317.4 654.0,321.4 663.1,325.6 672.3,329.8 681.6,333.8 691.1,337.2 700.6,340.0 710.3,342.0 720.2,343.2 730.2,343.6 740.4,343.4 750.7,342.7 761.2,341.6 771.9,340.5 782.7,339.4 793.7,338.5 804.9,338.0 816.2,338.0 827.6,338.3 839.2,339.0 850.8,339.9 862.6,340.9 874.4,341.9 886.3,342.7 898.2,343.1 910.1,343.2 922.1,342.8 934.0,342.0 945.9,340.8 957.7,339.4 969.5,337.8 981.2,336.2 992.8,334.8 1004.3,333.7 1015.7,332.8 1026.9,332.3 1038.0,332.1 1048.9,332.0 1059.7,332.0 1070.3,331.9 1080.7,331.5 1091.0,330.6 1101.1,329.2 1111.0,327.1 1120.8,324.4 1130.4,321.0 1139.9,317.1 1149.3,313.0 1158.6,308.8 1167.7,304.7 1176.8,301.1 1185.8,298.1 1194.7,296.0 1203.6,294.8 1212.5,294.7 1221.4,295.6 1230.3,297.4 1239.2,299.9 1248.2,303.0 1257.3,306.4 1266.4,309.9 1275.7,313.4 1285.1,316.6 1294.6,319.4 1304.2,321.9 1314.0,323.9 1324.0,325.6 1334.1,327.1 1344.4,328.5 1354.8,329.9 1365.4,331.5 1376.2,333.3 1387.1,335.4"/><polyline points="18.4,307.6 27.4,308.8 36.5,310.3 45.6,312.2 54.8,314.3 64.2,316.8 73.7,319.6 83.3,322.4 93.0,325.2 103.0,327.8 113.0,330.0 123.3,331.7 133.7,332.8 144.2,333.2 155.0,333.0 165.9,332.3 176.9,331.2 188.1,329.9 199.5,328.6 211.0,327.6 222.6,326.9 234.3,326.8 246.0,327.4 257.9,328.6 269.8,330.4 281.8,332.8 293.7,335.4 305.7,338.2 317.6,340.9 329.5,343.2 341.4,345.0 353.2,346.1 364.9,346.3 376.5,345.8 388.0,344.4 399.3,342.4 410.6,339.9 421.6,337.1 432.5,334.2 443.3,331.4 453.9,328.9 464.3,326.8 474.5,325.2 484.6,324.1 494.5,323.5 504.3,323.3 513.9,323.4 523.4,323.7 532.8,323.9 542.0,324.2 551.2,324.3 560.2,324.3 569.2,324.2 578.2,324.1 587.1,324.1 596.0,324.3 604.9,324.9 613.8,326.1 622.8,327.8 631.8,330.2 641.0,333.2 650.2,336.7 659.5,340.6 668.9,344.8 678.4,348.9 688.1,352.8 698.0,356.2 708.0,359.0 718.2,360.9 728.5,362.1 739.0,362.3 749.7,361.8 760.5,360.7 771.5,359.1 782.7,357.3 794.0,355.5 805.4,354.0 817.0,352.8 828.6,352.2 840.4,352.2 852.2,352.7 864.1,353.8 876.0,355.2 888.0,356.9 899.9,358.5 911.9,359.9 923.8,361.0 935.7,361.6 947.5,361.5 959.3,360.8 970.9,359.6 982.4,357.8 993.9,355.7 1005.1,353.3 1016.3,350.8 1027.2,348.4 1038.0,346.2 1048.7,344.2 1059.2,342.4 1069.5,340.8 1079.6,339.4 1089.6,338.0 1099.4,336.4 1109.1,334.7 1118.7,332.6 1128.1,330.2 1137.4,327.3 1146.5,324.2 1155.6,320.8 1164.7,317.4 1173.6,314.1 1182.6,311.2 1191.5,308.8 1200.4,307.3 1209.3,306.7 1218.2,307.0 1227.2,308.4 1236.3,310.8 1245.5,313.9 1254.8,317.7 1264.1,321.8 1273.6,326.1 1283.3,330.3 1293.1,334.1 1303.0,337.5 1313.1,340.2 1323.4,342.2 1333.8,343.6 1344.5,344.5 1355.2,345.0 1366.2,345.2 1377.3,345.4 1388.5,345.7"/><polyline points="12.9,330.6 22.1,331.0 31.3,331.2 40.7,331.3 50.2,331.5 59.8,331.9 69.5,332.6 79.4,333.6 89.5,334.9 99.8,336.5 110.2,338.2 120.7,339.9 131.5,341.4 142.4,342.6 153.4,343.4 164.6,343.8 176.0,343.8 187.4,343.3 199.0,342.6 210.7,341.7 222.5,340.8 234.4,340.1 246.3,339.8 258.3,339.9 270.3,340.5 282.3,341.7 294.2,343.3 306.2,345.2 318.1,347.3 329.9,349.4 341.6,351.2 353.3,352.5 364.8,353.2 376.2,353.1 387.4,352.1 398.6,350.3 409.5,347.7 420.3,344.5 430.9,341.0 441.4,337.3 451.7,333.7 461.8,330.5 471.8,327.8 481.6,325.9 491.3,324.7 500.8,324.4 510.2,324.9 519.5,326.1 528.7,327.8 537.8,329.8 546.8,332.1 555.8,334.3 564.7,336.5 573.7,338.5 582.6,340.2 591.5,341.8 600.5,343.2 609.6,344.7 618.7,346.2 627.9,347.9 637.2,349.9 646.6,352.3 656.2,355.0 665.9,358.0 675.7,361.3 685.7,364.6 695.9,367.9 706.2,370.9 716.8,373.4 727.4,375.3 738.3,376.6 749.3,377.1 760.4,376.9 771.7,376.0 783.1,374.7 794.7,373.0 806.3,371.3 818.1,369.8 829.9,368.6 841.8,367.9 853.8,367.8 865.8,368.4 877.8,369.5 889.7,371.2 901.7,373.2 913.6,375.2 925.5,377.2 937.2,378.8 948.9,379.8 960.5,380.1 971.9,379.5 983.2,378.1 994.4,375.9 1005.4,373.0 1016.3,369.6 1027.0,365.8 1037.5,361.8 1047.9,357.9 1058.1,354.2 1068.1,350.8 1078.0,347.9 1087.7,345.3 1097.3,343.2 1106.7,341.4 1116.1,339.8 1125.3,338.3 1134.4,336.8 1143.5,335.2 1152.5,333.5 1161.4,331.7 1170.3,329.9 1179.3,328.0 1188.2,326.4 1197.2,325.1 1206.2,324.4 1215.3,324.3 1224.5,325.0 1233.7,326.5 1243.1,328.8 1252.6,331.8 1262.3,335.3 1272.1,339.3 1282.0,343.4 1292.1,347.4 1302.4,351.1 1312.8,354.3 1323.4,356.8 1334.2,358.5 1345.1,359.5 1356.2,359.8 1367.4,359.6 1378.8,359.0 1390.3,358.2"/><polyline points="7.7,352.8 17.1,353.1 26.6,352.7 36.2,351.9 45.9,350.7 55.9,349.5 65.9,348.4 76.2,347.5 86.5,347.1 97.1,347.2 107.8,347.8 118.7,348.9 129.8,350.3 141.0,351.9 152.3,353.6 163.8,355.1 175.4,356.4 187.1,357.3 198.9,357.7 210.8,357.8 222.8,357.4 234.7,356.8 246.7,356.0 258.7,355.2 270.7,354.5 282.7,354.1 294.6,353.9 306.5,354.0 318.3,354.5 329.9,355.1 341.5,355.8 352.9,356.5 364.3,356.8 375.4,356.7 386.4,356.1 397.3,354.8 407.9,352.8 418.4,350.1 428.8,347.0 439.0,343.5 449.0,339.8 458.8,336.4 468.6,333.2 478.1,330.8 487.6,329.1 496.9,328.4 506.1,328.7 515.2,330.1 524.3,332.3 533.3,335.3 542.3,338.9 551.2,342.8 560.2,346.9 569.1,350.8 578.1,354.4 587.2,357.5 596.3,360.2 605.5,362.4 614.9,364.2 624.3,365.6 633.8,366.8 643.5,368.0 653.4,369.3 663.4,370.8 673.6,372.5 683.9,374.5 694.4,376.8 705.1,379.2 715.9,381.7 726.9,384.0 738.0,386.1 749.3,387.8 760.7,389.0 772.3,389.7 784.0,389.8 795.7,389.5 807.6,388.7 819.5,387.8 831.5,386.8 843.5,386.0 855.5,385.5 867.5,385.4 879.5,385.7 891.4,386.6 903.3,388.0 915.1,389.6 926.8,391.4 938.4,393.1 949.9,394.5 961.3,395.3 972.5,395.4 983.6,394.6 994.5,392.9 1005.2,390.2 1015.8,386.6 1026.2,382.4 1036.4,377.6 1046.5,372.6 1056.4,367.6 1066.2,362.8 1075.8,358.4 1085.3,354.7 1094.7,351.6 1103.9,349.4 1113.1,347.8 1122.2,346.9 1131.2,346.4 1140.2,346.4 1149.2,346.5 1158.1,346.6 1167.1,346.7 1176.0,346.7 1185.1,346.6 1194.2,346.4 1203.4,346.2 1212.6,346.2 1222.0,346.4 1231.5,346.9 1241.2,348.0 1250.9,349.5 1260.9,351.6 1271.0,354.1 1281.3,357.0 1291.7,360.2 1302.3,363.3 1313.1,366.3 1324.0,368.9 1335.1,371.0 1346.3,372.5 1357.7,373.3 1369.2,373.5 1380.8,373.0 1392.6,372.2"/><polyline points="2.9,372.1 12.5,372.9 22.3,372.8 32.2,372.0 42.2,370.6 52.5,368.7 62.9,366.7 73.4,364.7 84.2,363.0 95.0,361.7 106.1,361.1 117.3,361.1 128.6,361.8 140.1,363.1 151.7,364.9 163.4,367.0 175.3,369.1 187.1,371.1 199.1,372.8 211.1,374.0 223.1,374.6 235.2,374.6 247.2,374.0 259.2,372.8 271.1,371.2 283.0,369.4 294.8,367.4 306.5,365.5 318.1,363.7 329.6,362.2 341.0,360.9 352.2,359.9 363.2,359.1 374.1,358.3 384.8,357.5 395.4,356.5 405.8,355.3 416.0,353.7 426.1,351.7 436.0,349.3 445.7,346.8 455.3,344.2 464.8,341.7 474.2,339.5 483.4,337.8 492.6,337.0 501.7,337.0 510.7,338.0 519.7,340.0 528.7,342.9 537.7,346.7 546.7,351.1 555.7,355.9 564.7,360.8 573.9,365.6 583.1,370.1 592.4,373.9 601.9,377.1 611.4,379.5 621.1,381.3 631.0,382.4 641.0,383.0 651.1,383.2 661.4,383.4 671.9,383.7 682.6,384.2 693.4,385.1 704.4,386.4 715.6,388.2 726.9,390.3 738.3,392.7 749.8,395.2 761.5,397.7 773.3,400.0 785.2,401.9 797.1,403.4 809.1,404.4 821.1,404.9 833.1,405.1 845.1,404.8 857.2,404.4 869.1,404.0 881.0,403.6 892.9,403.4 904.6,403.5 916.3,403.9 927.8,404.5 939.2,405.2 950.5,405.8 961.6,406.3 972.5,406.4 983.3,405.9 994.0,404.7 1004.4,402.7 1014.7,399.8 1024.8,396.1 1034.8,391.7 1044.6,386.8 1054.3,381.6 1063.8,376.4 1073.2,371.5 1082.5,367.0 1091.7,363.3 1100.8,360.5 1109.9,358.7 1118.9,357.8 1127.9,357.8 1136.8,358.6 1145.8,359.9 1154.8,361.7 1163.9,363.6 1173.0,365.5 1182.2,367.1 1191.4,368.4 1200.8,369.4 1210.3,370.0 1220.0,370.3 1229.8,370.4 1239.7,370.4 1249.8,370.6 1260.1,370.9 1270.5,371.6 1281.1,372.6 1291.8,374.0 1302.8,375.7 1313.9,377.7 1325.1,379.8 1336.5,381.8 1348.0,383.6 1359.6,385.1 1371.3,386.1 1383.2,386.7 1395.1,386.8"/><polyline points="-1.5,387.7 8.4,389.0 18.5,389.8 28.7,389.8 39.1,389.2 49.7,387.9 60.4,386.2 71.3,384.2 82.3,382.2 93.5,380.3 104.9,378.9 116.3,377.9 128.0,377.7 139.7,378.1 151.5,379.2 163.4,380.9 175.4,383.0 187.4,385.2 199.4,387.4 211.5,389.3 223.5,390.7 235.5,391.3 247.5,391.2 259.4,390.2 271.3,388.3 283.0,385.7 294.7,382.5 306.2,379.0 317.6,375.3 328.8,371.7 339.9,368.2 350.9,365.2 361.6,362.6 372.2,360.6 382.7,359.0 393.0,357.8 403.1,356.9 413.0,356.2 422.8,355.5 432.5,354.8 442.0,354.0 451.4,353.1 460.7,352.2 469.9,351.2 479.0,350.5 488.1,350.0 497.1,350.1 506.1,350.7 515.1,352.1 524.1,354.3 533.1,357.3 542.2,361.0 551.4,365.2 560.6,369.9 569.9,374.7 579.3,379.4 588.9,383.9 598.6,387.7 608.4,390.9 618.4,393.3 628.6,394.9 638.9,395.7 649.4,395.9 660.1,395.6 670.9,395.2 681.9,394.7 693.0,394.5 704.3,394.7 715.7,395.5 727.3,396.9 739.0,398.9 750.8,401.5 762.6,404.5 774.6,407.8 786.6,411.2 798.6,414.3 810.7,417.1 822.7,419.4 834.7,421.1 846.7,422.1 858.7,422.4 870.6,422.2 882.4,421.5 894.0,420.5 905.6,419.3 917.1,418.1 928.4,416.9 939.5,415.9 950.5,415.0 961.4,414.3 972.0,413.5 982.5,412.6 992.9,411.5 1003.0,410.0 1013.1,408.0 1022.9,405.5 1032.6,402.4 1042.2,398.7 1051.6,394.7 1061.0,390.5 1070.2,386.2 1079.4,382.1 1088.5,378.5 1097.5,375.6 1106.5,373.5 1115.5,372.4 1124.5,372.3 1133.5,373.2 1142.6,374.9 1151.7,377.3 1160.9,380.2 1170.2,383.2 1179.6,386.2 1189.1,388.9 1198.7,391.1 1208.5,392.8 1218.4,393.7 1228.5,394.1 1238.8,393.8 1249.2,393.2 1259.8,392.3 1270.6,391.4 1281.5,390.6 1292.6,390.2 1303.8,390.1 1315.2,390.6 1326.7,391.5 1338.3,392.8 1350.1,394.5 1361.9,396.3 1373.8,398.1 1385.8,399.8 1397.8,401.2"/><polyline points="-5.4,400.4 4.9,402.0 15.2,403.5 25.8,404.6 36.5,405.2 47.4,405.4 58.4,405.1 69.6,404.3 81.0,403.1 92.5,401.7 104.1,400.3 115.8,399.0 127.6,398.0 139.6,397.5 151.5,397.5 163.6,398.0 175.6,399.1 187.7,400.5 199.8,402.0 211.8,403.6 223.8,404.9 235.8,405.7 247.7,405.8 259.4,405.0 271.1,403.4 282.7,400.8 294.1,397.3 305.4,393.1 316.6,388.4 327.5,383.4 338.4,378.5 349.0,373.8 359.5,369.6 369.8,366.0 380.0,363.3 390.0,361.4 399.8,360.3 409.5,359.9 419.1,360.2 428.5,360.8 437.9,361.8 447.1,362.8 456.2,363.8 465.3,364.7 474.4,365.5 483.4,366.1 492.4,366.8 501.4,367.5 510.5,368.5 519.6,369.8 528.7,371.5 538.0,373.7 547.3,376.5 556.8,379.7 566.3,383.3 576.0,387.2 585.9,391.1 595.8,394.9 606.0,398.3 616.3,401.3 626.8,403.6 637.5,405.2 648.3,406.2 659.3,406.5 670.4,406.4 681.7,406.0 693.1,405.5 704.7,405.2 716.4,405.3 728.2,406.0 740.0,407.3 752.0,409.4 764.0,412.1 776.0,415.4 788.1,419.1 800.2,423.0 812.3,426.8 824.3,430.3 836.3,433.3 848.2,435.5 860.0,436.9 871.7,437.4 883.3,436.9 894.8,435.7 906.2,433.8 917.4,431.4 928.4,428.7 939.3,425.9 950.0,423.2 960.6,420.7 971.0,418.5 981.2,416.6 991.2,415.0 1001.1,413.5 1010.9,412.2 1020.5,410.8 1030.0,409.3 1039.4,407.5 1048.6,405.5 1057.8,403.3 1066.9,400.8 1076.0,398.3 1085.0,395.9 1094.1,393.7 1103.1,392.0 1112.1,390.9 1121.2,390.6 1130.3,391.0 1139.5,392.3 1148.8,394.4 1158.2,397.1 1167.7,400.2 1177.4,403.5 1187.1,406.8 1197.1,409.8 1207.2,412.3 1217.4,414.1 1227.8,415.1 1238.4,415.4 1249.2,414.9 1260.1,413.8 1271.2,412.3 1282.4,410.6 1293.8,408.9 1305.3,407.5 1316.9,406.5 1328.7,406.0 1340.5,406.3 1352.5,407.3 1364.5,408.8 1376.5,410.8 1388.6,413.2 1400.6,415.7"/><polyline points="-8.7,412.3 1.9,413.6 12.6,415.2 23.5,417.1 34.5,418.9 45.7,420.6 57.0,422.0 68.5,423.0 80.1,423.5 91.9,423.5 103.7,423.1 115.6,422.3 127.6,421.3 139.7,420.2 151.7,419.2 163.8,418.3 175.9,417.7 188.0,417.4 200.0,417.4 212.0,417.5 223.9,417.7 235.8,417.7 247.5,417.4 259.1,416.6 270.6,415.1 281.9,412.8 293.1,409.7 304.1,405.9 315.0,401.3 325.7,396.3 336.2,391.0 346.6,385.7 356.8,380.7 366.8,376.3 376.7,372.6 386.5,369.9 396.1,368.2 405.6,367.6 414.9,367.9 424.2,369.2 433.4,371.1 442.5,373.5 451.6,376.1 460.6,378.7 469.7,381.1 478.7,383.2 487.8,384.9 496.9,386.3 506.0,387.3 515.3,388.1 524.6,388.8 534.1,389.6 543.6,390.5 553.3,391.8 563.2,393.5 573.2,395.6 583.3,398.0 593.6,400.8 604.1,403.7 614.8,406.7 625.6,409.4 636.6,411.9 647.7,414.0 659.0,415.6 670.4,416.7 682.0,417.3 693.7,417.7 705.5,417.9 717.4,418.0 729.3,418.4 741.3,419.2 753.4,420.4 765.5,422.3 777.6,424.7 789.7,427.7 801.7,431.1 813.7,434.6 825.7,438.2 837.5,441.5 849.3,444.3 861.0,446.4 872.5,447.6 883.9,447.7 895.1,446.8 906.2,444.9 917.2,442.2 927.9,438.8 938.5,434.9 949.0,430.9 959.2,427.0 969.3,423.4 979.3,420.2 989.1,417.7 998.7,415.8 1008.3,414.5 1017.7,413.8 1027.0,413.5 1036.2,413.5 1045.3,413.6 1054.4,413.7 1063.5,413.7 1072.5,413.5 1081.6,413.2 1090.6,412.7 1099.7,412.1 1108.8,411.6 1118.1,411.4 1127.4,411.5 1136.8,412.1 1146.3,413.2 1155.9,414.8 1165.7,417.0 1175.6,419.5 1185.7,422.3 1196.0,425.2 1206.4,427.9 1217.0,430.2 1227.7,432.0 1238.6,433.1 1249.7,433.5 1260.9,433.2 1272.3,432.3 1283.8,430.8 1295.5,429.1 1307.2,427.3 1319.1,425.7 1331.0,424.4 1343.0,423.8 1355.1,423.8 1367.2,424.7 1379.3,426.2 1391.4,428.5 1403.4,431.2"/><polyline points="-11.4,425.2 -0.6,425.9 10.5,427.1 21.7,429.0 33.0,431.4 44.5,434.0 56.1,436.8 67.9,439.4 79.7,441.6 91.6,443.3 103.6,444.4 115.7,444.8 127.8,444.5 139.9,443.5 152.0,442.0 164.1,440.2 176.2,438.1 188.2,435.9 200.1,433.9 212.0,431.9 223.8,430.1 235.4,428.5 246.9,427.0 258.3,425.4 269.5,423.6 280.6,421.6 291.5,419.1 302.3,416.2 312.9,412.7 323.3,408.8 333.5,404.4 343.6,399.9 353.5,395.4 363.3,391.1 373.0,387.3 382.5,384.3 391.9,382.1 401.2,380.9 410.4,380.8 419.6,381.7 428.7,383.6 437.8,386.3 446.8,389.4 455.9,392.9 465.0,396.4 474.1,399.6 483.3,402.4 492.5,404.6 501.9,406.1 511.3,407.0 520.9,407.4 530.6,407.3 540.4,407.0 550.4,406.6 560.6,406.4 570.9,406.5 581.3,407.1 592.0,408.3 602.8,410.0 613.8,412.1 624.9,414.7 636.2,417.5 647.6,420.4 659.2,423.3 670.9,425.9 682.7,428.1 694.6,430.0 706.6,431.4 718.6,432.5 730.7,433.4 742.8,434.1 754.9,434.8 767.0,435.7 779.1,436.9 791.1,438.4 803.1,440.2 815.0,442.4 826.8,444.7 838.5,447.1 850.1,449.3 861.5,451.2 872.8,452.4 883.9,452.9 894.9,452.5 905.7,451.1 916.4,448.8 926.9,445.7 937.2,441.9 947.3,437.7 957.3,433.3 967.2,429.1 976.9,425.2 986.4,421.9 995.9,419.4 1005.2,417.8 1014.5,417.2 1023.7,417.5 1032.8,418.5 1041.9,420.1 1050.9,422.1 1060.0,424.2 1069.0,426.3 1078.2,428.2 1087.3,429.8 1096.5,431.0 1105.8,431.8 1115.2,432.3 1124.8,432.5 1134.4,432.7 1144.2,432.9 1154.1,433.4 1164.2,434.1 1174.4,435.2 1184.9,436.7 1195.4,438.5 1206.2,440.5 1217.1,442.7 1228.2,444.8 1239.4,446.6 1250.8,448.1 1262.3,449.1 1273.9,449.6 1285.7,449.5 1297.6,449.0 1309.5,448.1 1321.5,447.0 1333.6,445.9 1345.7,445.1 1357.8,444.6 1369.9,444.7 1382.0,445.5 1394.1,446.9 1406.1,448.9"/><polyline points="-13.6,440.2 -2.4,440.3 8.9,441.0 20.4,442.4 32.0,444.5 43.7,447.2 55.6,450.3 67.5,453.6 79.5,456.8 91.6,459.8 103.7,462.1 115.9,463.7 128.0,464.4 140.1,464.1 152.2,462.9 164.3,460.7 176.2,457.9 188.1,454.5 199.9,450.7 211.6,446.9 223.2,443.0 234.6,439.5 245.9,436.2 257.0,433.3 268.0,430.7 278.8,428.4 289.4,426.3 299.9,424.2 310.2,422.1 320.3,419.8 330.3,417.4 340.1,414.7 349.8,411.8 359.4,408.9 368.8,406.1 378.1,403.6 387.4,401.5 396.6,400.1 405.7,399.4 414.8,399.5 423.9,400.6 433.0,402.4 442.1,405.0 451.2,408.1 460.4,411.5 469.7,414.9 479.0,418.1 488.5,420.8 498.0,423.0 507.7,424.4 517.6,425.1 527.6,425.0 537.7,424.4 548.0,423.3 558.5,422.1 569.1,420.9 579.9,420.0 590.9,419.5 602.0,419.8 613.3,420.7 624.8,422.5 636.3,424.9 648.0,427.9 659.8,431.3 671.7,434.9 683.7,438.5 695.8,441.8 707.9,444.8 720.0,447.2 732.1,449.0 744.3,450.3 756.4,451.1 768.4,451.4 780.4,451.5 792.4,451.4 804.2,451.4 816.0,451.4 827.6,451.6 839.0,452.0 850.4,452.5 861.6,453.0 872.6,453.4 883.4,453.5 894.1,453.2 904.7,452.4 915.0,451.0 925.2,448.8 935.3,446.1 945.2,442.8 954.9,439.2 964.5,435.5 974.0,431.8 983.4,428.6 992.7,426.0 1001.9,424.1 1011.0,423.3 1020.1,423.5 1029.2,424.6 1038.3,426.7 1047.4,429.5 1056.5,432.9 1065.7,436.5 1074.9,440.1 1084.2,443.5 1093.6,446.4 1103.2,448.7 1112.8,450.4 1122.6,451.4 1132.5,451.9 1142.6,451.8 1152.8,451.5 1163.2,451.2 1173.8,450.9 1184.6,450.9 1195.5,451.3 1206.5,452.1 1217.8,453.4 1229.1,455.2 1240.7,457.2 1252.3,459.4 1264.1,461.6 1275.9,463.7 1287.9,465.4 1299.9,466.8 1312.0,467.7 1324.1,468.3 1336.3,468.4 1348.4,468.4 1360.5,468.2 1372.6,468.1 1384.6,468.2 1396.6,468.6 1408.5,469.4"/><polyline points="-15.3,456.7 -3.8,456.8 7.8,457.2 19.5,458.1 31.4,459.5 43.3,461.4 55.4,463.9 67.5,466.7 79.6,469.7 91.7,472.7 103.9,475.4 116.1,477.6 128.2,479.0 140.3,479.4 152.3,478.8 164.2,477.1 176.0,474.3 187.8,470.6 199.4,466.2 210.8,461.3 222.2,456.2 233.3,451.1 244.3,446.4 255.2,442.1 265.9,438.5 276.4,435.5 286.7,433.3 296.9,431.7 306.9,430.6 316.8,429.8 326.5,429.2 336.1,428.7 345.6,428.1 355.0,427.4 364.3,426.5 373.5,425.4 382.7,424.3 391.8,423.2 400.9,422.4 410.0,421.9 419.1,421.9 428.2,422.4 437.5,423.5 446.7,425.2 456.1,427.4 465.5,429.9 475.1,432.5 484.8,435.1 494.6,437.4 504.6,439.3 514.8,440.5 525.1,441.2 535.5,441.1 546.2,440.5 557.0,439.4 567.9,438.0 579.1,436.6 590.4,435.4 601.8,434.7 613.4,434.6 625.1,435.2 636.9,436.7 648.8,439.0 660.8,442.0 672.8,445.6 685.0,449.6 697.1,453.6 709.3,457.5 721.4,460.9 733.6,463.7 745.7,465.7 757.7,466.9 769.7,467.2 781.5,466.7 793.3,465.6 805.0,463.9 816.5,462.0 827.9,459.9 839.1,457.9 850.2,456.1 861.1,454.5 871.8,453.2 882.4,452.2 892.8,451.4 903.0,450.6 913.1,449.8 923.1,448.7 932.8,447.5 942.5,445.9 952.0,444.0 961.4,441.9 970.8,439.6 980.0,437.4 989.2,435.5 998.3,434.0 1007.4,433.1 1016.5,433.0 1025.7,433.8 1034.8,435.4 1044.0,438.0 1053.2,441.2 1062.5,445.0 1071.9,449.1 1081.5,453.3 1091.1,457.3 1100.9,460.8 1110.8,463.6 1120.9,465.8 1131.1,467.1 1141.6,467.6 1152.1,467.5 1162.9,466.9 1173.8,466.0 1184.8,465.2 1196.1,464.5 1207.4,464.2 1218.9,464.5 1230.6,465.5 1242.4,467.2 1254.2,469.5 1266.2,472.3 1278.2,475.4 1290.3,478.7 1302.5,481.9 1314.6,484.9 1326.8,487.5 1338.9,489.5 1351.1,491.0 1363.1,491.9 1375.1,492.3 1387.0,492.3 1398.8,492.0 1410.5,491.6"/><polyline points="-16.5,473.0 -4.7,474.0 7.1,474.8 19.1,475.5 31.1,476.2 43.2,477.1 55.4,478.2 67.5,479.7 79.7,481.4 91.9,483.2 104.0,485.0 116.2,486.7 128.2,487.9 140.2,488.6 152.0,488.4 163.8,487.3 175.4,485.3 187.0,482.2 198.3,478.3 209.5,473.6 220.6,468.5 231.5,463.1 242.2,457.8 252.8,452.8 263.2,448.4 273.4,444.9 283.5,442.3 293.4,440.6 303.2,439.9 312.8,440.0 322.3,440.7 331.7,441.9 341.1,443.3 350.3,444.7 359.5,445.9 368.7,446.8 377.8,447.2 386.9,447.3 396.0,447.0 405.2,446.5 414.4,445.8 423.7,445.2 433.1,444.8 442.5,444.7 452.1,445.0 461.8,445.8 471.6,447.0 481.6,448.6 491.8,450.3 502.1,452.1 512.5,453.8 523.2,455.2 533.9,456.2 544.9,456.8 556.0,456.9 567.3,456.6 578.8,455.9 590.3,455.1 602.0,454.3 613.8,453.8 625.8,453.7 637.8,454.2 649.8,455.4 662.0,457.3 674.1,459.9 686.3,463.0 698.5,466.5 710.7,470.1 722.8,473.5 734.9,476.6 746.9,478.9 758.8,480.4 770.6,481.0 782.3,480.4 793.8,478.9 805.3,476.4 816.5,473.2 827.7,469.6 838.6,465.7 849.4,461.8 860.0,458.1 870.5,454.9 880.8,452.2 890.9,450.2 900.9,448.8 910.7,448.0 920.4,447.6 930.0,447.5 939.4,447.6 948.8,447.7 958.1,447.6 967.3,447.5 976.4,447.1 985.6,446.7 994.7,446.2 1003.8,445.9 1013.0,445.9 1022.2,446.2 1031.4,447.1 1040.8,448.7 1050.2,450.8 1059.7,453.6 1069.4,457.0 1079.1,460.6 1089.1,464.5 1099.1,468.2 1109.4,471.7 1119.8,474.7 1130.3,477.0 1141.1,478.7 1152.0,479.6 1163.0,479.8 1174.3,479.5 1185.6,478.9 1197.1,478.1 1208.8,477.5 1220.6,477.3 1232.5,477.7 1244.4,478.8 1256.5,480.6 1268.6,483.3 1280.7,486.7 1292.9,490.7 1305.1,494.9 1317.3,499.3 1329.4,503.4 1341.5,507.2 1353.5,510.3 1365.5,512.6 1377.3,514.1 1389.1,514.6 1400.7,514.4 1412.2,513.4"/><polyline points="-17.2,487.3 -5.3,489.7 6.8,491.4 18.9,492.5 31.0,493.0 43.2,493.2 55.4,493.0 67.6,492.8 79.8,492.6 92.0,492.5 104.0,492.5 116.0,492.5 128.0,492.6 139.8,492.5 151.4,492.2 163.0,491.4 174.4,490.1 185.7,488.2 196.8,485.5 207.7,482.2 218.5,478.2 229.1,473.9 239.5,469.4 249.8,465.0 259.9,460.8 269.9,457.3 279.7,454.5 289.4,452.6 298.9,451.8 308.4,452.0 317.8,453.1 327.0,455.0 336.3,457.4 345.4,460.2 354.6,462.9 363.7,465.4 372.9,467.5 382.1,469.0 391.3,469.8 400.6,469.9 410.0,469.4 419.4,468.5 429.0,467.2 438.7,465.8 448.5,464.5 458.5,463.6 468.7,463.1 479.0,463.1 489.4,463.7 500.0,464.8 510.8,466.3 521.8,468.1 532.9,470.0 544.2,471.9 555.6,473.6 567.2,475.0 578.9,476.0 590.7,476.6 602.6,476.9 614.7,476.9 626.7,476.9 638.9,476.9 651.1,477.1 663.3,477.7 675.5,478.7 687.7,480.0 699.8,481.8 711.9,483.9 724.0,486.1 735.9,488.1 747.8,489.9 759.5,491.1 771.1,491.5 782.6,491.0 793.9,489.5 805.1,487.0 816.1,483.6 826.9,479.5 837.6,474.8 848.1,469.8 858.4,464.9 868.6,460.2 878.6,456.2 888.5,452.9 898.2,450.5 907.8,449.0 917.3,448.5 926.7,448.9 936.0,449.9 945.3,451.3 954.5,453.1 963.6,454.9 972.8,456.5 981.9,458.0 991.1,459.1 1000.3,459.9 1009.6,460.4 1018.9,460.8 1028.3,461.2 1037.9,461.7 1047.5,462.5 1057.3,463.7 1067.2,465.4 1077.3,467.5 1087.5,470.1 1097.9,473.0 1108.5,476.2 1119.2,479.3 1130.1,482.3 1141.2,485.0 1152.4,487.2 1163.8,489.0 1175.3,490.2 1186.9,490.9 1198.7,491.3 1210.6,491.5 1222.6,491.7 1234.6,492.1 1246.7,493.0 1258.9,494.5 1271.1,496.7 1283.3,499.6 1295.5,503.2 1307.7,507.3 1319.8,511.8 1331.9,516.5 1343.9,521.0 1355.7,525.0 1367.5,528.4 1379.2,530.9 1390.7,532.3 1402.1,532.5 1413.3,531.7"/><polyline points="71.0,97.3 71.0,105.5 71.0,114.2 70.9,123.2 70.8,132.2 70.6,140.9 70.4,149.1 70.1,156.7 69.7,163.7 69.2,170.0 68.6,175.9 67.8,181.3 67.0,186.5 66.0,191.6 64.8,196.7 63.5,201.8 62.1,207.0 60.6,212.2 58.9,217.2 57.0,222.1 55.0,226.7 52.9,231.0 50.7,234.8 48.4,238.3 45.9,241.6 43.4,244.9 40.8,248.4 38.1,252.3 35.3,257.0 32.5,262.6 29.7,269.4 26.9,277.4 24.0,286.5 21.2,296.6 18.4,307.6 15.6,319.0 12.9,330.6 10.3,342.0 7.7,352.8 5.3,362.9 2.9,372.1 0.7,380.3 -1.5,387.7 -3.5,394.3 -5.4,400.4 -7.1,406.3 -8.7,412.3 -10.1,418.5 -11.4,425.2 -12.6,432.5 -13.6,440.2 -14.5,448.4 -15.3,456.7 -15.9,465.0 -16.5,473.0 -16.9,480.5 -17.2,487.3"/><polyline points="105.7,92.7 105.6,100.3 105.5,108.7 105.3,117.9 105.0,127.3 104.6,136.9 104.1,146.2 103.5,155.0 102.7,163.1 101.9,170.2 100.9,176.5 99.7,181.8 98.4,186.5 97.0,190.6 95.5,194.4 93.7,198.2 91.9,202.2 89.9,206.6 87.8,211.4 85.6,216.7 83.3,222.4 80.8,228.5 78.3,234.8 75.7,241.1 73.0,247.3 70.3,253.4 67.5,259.3 64.7,265.0 61.9,270.6 59.1,276.3 56.3,282.3 53.6,288.8 50.8,295.8 48.2,303.6 45.6,312.2 43.1,321.4 40.7,331.3 38.4,341.5 36.2,351.9 34.1,362.1 32.2,372.0 30.4,381.3 28.7,389.8 27.2,397.6 25.8,404.6 24.6,411.0 23.5,417.1 22.5,423.0 21.7,429.0 21.0,435.5 20.4,442.4 19.9,450.0 19.5,458.1 19.3,466.7 19.1,475.5 19.0,484.2 18.9,492.5"/><polyline points="140.0,93.6 139.7,99.7 139.3,106.5 138.8,114.1 138.2,122.3 137.4,131.0 136.6,139.9 135.6,148.8 134.4,157.4 133.1,165.5 131.7,173.0 130.1,179.6 128.4,185.4 126.6,190.5 124.6,194.9 122.5,199.0 120.3,202.9 118.0,207.0 115.5,211.5 113.0,216.6 110.4,222.5 107.8,229.1 105.1,236.4 102.3,244.2 99.5,252.4 96.8,260.7 94.0,268.8 91.2,276.6 88.5,283.9 85.9,290.6 83.2,296.9 80.7,302.7 78.3,308.2 75.9,313.8 73.7,319.6 71.5,325.8 69.5,332.6 67.7,340.1 65.9,348.4 64.3,357.3 62.9,366.7 61.6,376.4 60.4,386.2 59.3,395.8 58.4,405.1 57.7,413.8 57.0,422.0 56.5,429.6 56.1,436.8 55.8,443.6 55.6,450.3 55.4,457.0 55.4,463.9 55.3,470.9 55.4,478.2 55.4,485.7 55.4,493.0"/><polyline points="173.3,97.7 172.7,102.9 171.9,108.2 171.1,113.8 170.1,119.8 168.9,126.4 167.6,133.4 166.2,141.0 164.6,149.0 162.9,157.2 161.1,165.5 159.1,173.6 157.0,181.3 154.8,188.7 152.4,195.5 150.0,201.7 147.5,207.6 144.9,213.1 142.3,218.6 139.6,224.1 136.9,230.0 134.2,236.3 131.4,243.2 128.7,250.7 126.0,258.7 123.3,267.1 120.7,275.7 118.1,284.2 115.6,292.4 113.2,300.0 110.9,307.0 108.8,313.1 106.7,318.6 104.8,323.4 103.0,327.8 101.3,332.0 99.8,336.5 98.4,341.5 97.1,347.2 96.0,354.0 95.0,361.7 94.2,370.6 93.5,380.3 92.9,390.8 92.5,401.7 92.1,412.7 91.9,423.5 91.7,433.8 91.6,443.3 91.6,452.0 91.6,459.8 91.7,466.6 91.7,472.7 91.8,478.2 91.9,483.2 91.9,487.9 92.0,492.5"/><polyline points="205.4,100.7 204.3,106.0 203.2,110.9 201.9,115.6 200.5,120.3 198.9,125.1 197.2,130.3 195.3,136.1 193.4,142.7 191.3,149.9 189.0,158.0 186.7,166.7 184.3,175.8 181.8,185.2 179.3,194.7 176.7,203.9 174.0,212.8 171.3,221.1 168.6,228.9 165.9,236.2 163.2,243.0 160.5,249.5 157.9,255.8 155.3,262.1 152.8,268.6 150.4,275.3 148.0,282.2 145.8,289.2 143.7,296.4 141.7,303.4 139.8,310.3 138.1,316.7 136.5,322.6 135.0,327.9 133.7,332.8 132.5,337.2 131.5,341.4 130.6,345.7 129.8,350.3 129.2,355.6 128.6,361.8 128.2,369.1 128.0,377.7 127.8,387.4 127.6,398.0 127.6,409.5 127.6,421.3 127.7,433.1 127.8,444.5 127.9,455.0 128.0,464.4 128.1,472.4 128.2,479.0 128.2,484.1 128.2,487.9 128.1,490.7 128.0,492.6"/><polyline points="236.0,99.5 234.5,105.5 233.0,111.1 231.3,116.3 229.4,121.3 227.4,126.1 225.3,130.9 223.1,136.1 220.8,141.8 218.4,148.2 215.9,155.6 213.4,163.9 210.8,173.2 208.2,183.4 205.5,194.2 202.8,205.3 200.1,216.5 197.5,227.4 194.8,237.8 192.3,247.4 189.7,256.0 187.3,263.6 184.9,270.2 182.6,276.0 180.5,281.1 178.4,285.7 176.5,290.1 174.7,294.6 173.0,299.2 171.4,304.1 170.0,309.3 168.8,314.8 167.7,320.6 166.7,326.4 165.9,332.3 165.2,338.1 164.6,343.8 164.2,349.5 163.8,355.1 163.6,360.9 163.4,367.0 163.4,373.6 163.4,380.9 163.5,389.0 163.6,398.0 163.7,407.9 163.8,418.3 164.0,429.2 164.1,440.2 164.2,450.8 164.3,460.7 164.3,469.6 164.2,477.1 164.0,483.0 163.8,487.3 163.5,490.1 163.0,491.4"/><polyline points="265.1,95.3 263.3,101.4 261.3,107.7 259.2,114.0 257.0,120.4 254.7,126.7 252.3,133.0 249.9,139.3 247.3,145.9 244.8,152.8 242.1,160.2 239.5,168.3 236.9,177.2 234.2,186.8 231.6,197.3 229.0,208.4 226.5,220.0 224.0,231.6 221.6,243.1 219.3,254.0 217.0,264.0 214.9,272.9 212.9,280.5 211.1,286.8 209.3,291.9 207.7,295.8 206.2,298.9 204.9,301.4 203.7,303.8 202.7,306.3 201.8,309.2 201.0,312.9 200.4,317.3 199.9,322.6 199.5,328.6 199.2,335.4 199.0,342.6 198.9,350.1 198.9,357.7 199.0,365.3 199.1,372.8 199.2,380.2 199.4,387.4 199.6,394.7 199.8,402.0 199.9,409.6 200.0,417.4 200.1,425.5 200.1,433.9 200.1,442.3 199.9,450.7 199.7,458.8 199.4,466.2 198.9,472.8 198.3,478.3 197.6,482.5 196.8,485.5"/><polyline points="292.9,92.1 290.7,97.4 288.4,103.5 286.0,110.3 283.6,117.9 281.1,125.9 278.5,134.3 275.9,142.9 273.3,151.6 270.7,160.4 268.1,169.1 265.5,178.0 263.0,187.0 260.5,196.1 258.0,205.6 255.7,215.4 253.4,225.4 251.3,235.7 249.2,246.0 247.3,256.2 245.5,266.0 243.8,275.1 242.3,283.4 240.9,290.5 239.6,296.5 238.5,301.2 237.5,304.8 236.7,307.5 236.0,309.4 235.4,311.1 235.0,312.9 234.6,315.0 234.4,317.9 234.3,321.8 234.3,326.8 234.3,333.0 234.4,340.1 234.5,348.2 234.7,356.8 234.9,365.7 235.2,374.6 235.4,383.2 235.5,391.3 235.7,398.8 235.8,405.7 235.8,411.9 235.8,417.7 235.6,423.2 235.4,428.5 235.1,433.9 234.6,439.5 234.0,445.2 233.3,451.1 232.5,457.1 231.5,463.1 230.4,468.7 229.1,473.9"/><polyline points="319.5,93.8 317.1,98.0 314.6,103.3 312.1,109.7 309.5,117.2 306.9,125.9 304.3,135.4 301.8,145.6 299.2,156.2 296.7,167.0 294.3,177.6 291.9,188.0 289.6,197.9 287.4,207.4 285.3,216.4 283.3,225.0 281.4,233.2 279.7,241.3 278.1,249.3 276.6,257.2 275.3,265.1 274.1,272.8 273.1,280.3 272.1,287.4 271.4,294.0 270.7,300.0 270.2,305.2 269.9,309.6 269.6,313.2 269.4,316.2 269.4,318.8 269.4,321.2 269.5,323.8 269.6,326.7 269.8,330.4 270.0,335.0 270.3,340.5 270.5,347.1 270.7,354.5 271.0,362.7 271.1,371.2 271.2,379.9 271.3,388.3 271.2,396.2 271.1,403.4 270.9,409.7 270.6,415.1 270.1,419.7 269.5,423.6 268.8,427.2 268.0,430.7 267.0,434.4 265.9,438.5 264.6,443.1 263.2,448.4 261.6,454.4 259.9,460.8"/><polyline points="345.4,100.8 342.9,104.9 340.3,109.7 337.8,115.4 335.3,122.2 332.8,130.0 330.3,139.1 327.9,149.1 325.6,159.8 323.3,171.1 321.2,182.6 319.2,193.9 317.2,204.7 315.4,214.9 313.7,224.2 312.2,232.7 310.8,240.2 309.5,247.0 308.4,253.2 307.4,259.0 306.6,264.7 305.9,270.3 305.3,276.1 304.9,282.1 304.6,288.3 304.4,294.6 304.3,301.0 304.2,307.1 304.3,313.0 304.4,318.4 304.6,323.3 304.9,327.6 305.1,331.4 305.4,334.9 305.7,338.2 305.9,341.6 306.2,345.2 306.4,349.3 306.5,354.0 306.6,359.4 306.5,365.5 306.4,372.1 306.2,379.0 305.9,386.1 305.4,393.1 304.8,399.7 304.1,405.9 303.3,411.3 302.3,416.2 301.1,420.4 299.9,424.2 298.4,427.9 296.9,431.7 295.2,435.8 293.4,440.6 291.4,446.2 289.4,452.6"/><polyline points="371.1,110.1 368.6,115.6 366.1,121.1 363.7,126.9 361.4,133.0 359.1,139.8 356.9,147.3 354.8,155.6 352.8,164.6 351.0,174.3 349.2,184.5 347.6,195.0 346.1,205.4 344.8,215.6 343.6,225.2 342.5,234.1 341.6,242.1 340.9,249.1 340.2,255.3 339.7,260.7 339.3,265.6 339.1,270.2 338.9,274.8 338.9,279.6 338.9,284.8 339.1,290.4 339.2,296.6 339.5,303.2 339.7,310.1 340.0,317.1 340.4,323.8 340.7,330.2 340.9,335.9 341.2,340.8 341.4,345.0 341.6,348.4 341.6,351.2 341.6,353.6 341.5,355.8 341.3,358.2 341.0,360.9 340.5,364.2 339.9,368.2 339.2,373.0 338.4,378.5 337.4,384.5 336.2,391.0 334.9,397.7 333.5,404.4 332.0,411.0 330.3,417.4 328.5,423.4 326.5,429.2 324.5,435.0 322.3,440.7 320.1,446.7 317.8,453.1"/><polyline points="396.9,118.2 394.6,125.6 392.4,132.8 390.2,139.6 388.2,146.1 386.3,152.4 384.5,158.7 382.8,165.0 381.3,171.6 379.9,178.6 378.6,186.0 377.5,193.9 376.5,202.3 375.6,211.0 374.9,219.8 374.4,228.6 373.9,237.1 373.6,245.1 373.4,252.6 373.3,259.4 373.3,265.5 373.4,271.1 373.6,276.3 373.8,281.2 374.1,286.0 374.4,291.1 374.8,296.5 375.1,302.2 375.4,308.5 375.8,315.0 376.0,321.8 376.3,328.5 376.4,334.9 376.5,340.7 376.5,345.8 376.4,349.9 376.2,353.1 375.9,355.3 375.4,356.7 374.8,357.6 374.1,358.3 373.3,359.2 372.2,360.6 371.1,362.8 369.8,366.0 368.4,370.5 366.8,376.3 365.1,383.2 363.3,391.1 361.4,399.8 359.4,408.9 357.2,418.2 355.0,427.4 352.7,436.3 350.3,444.7 347.9,452.7 345.4,460.2"/><polyline points="423.4,124.3 421.4,132.7 419.6,140.8 417.8,148.6 416.2,155.8 414.8,162.4 413.4,168.4 412.2,173.8 411.2,178.9 410.2,183.7 409.5,188.6 408.8,193.7 408.3,199.3 408.0,205.5 407.7,212.4 407.6,219.9 407.5,228.0 407.6,236.5 407.7,245.1 408.0,253.7 408.2,262.0 408.6,269.9 408.9,277.2 409.3,283.9 409.7,289.9 410.0,295.5 410.4,300.7 410.7,305.6 410.9,310.4 411.1,315.3 411.2,320.2 411.2,325.3 411.1,330.3 410.9,335.2 410.6,339.9 410.1,344.1 409.5,347.7 408.8,350.6 407.9,352.8 406.9,354.3 405.8,355.3 404.5,356.0 403.1,356.9 401.5,358.2 399.8,360.3 398.0,363.6 396.1,368.2 394.0,374.4 391.9,382.1 389.7,391.2 387.4,401.5 385.1,412.7 382.7,424.3 380.2,435.9 377.8,447.2 375.3,457.9 372.9,467.5"/><polyline points="451.0,130.0 449.5,137.4 448.0,144.9 446.8,152.3 445.6,159.4 444.7,166.1 443.8,172.2 443.1,177.6 442.5,182.4 442.1,186.7 441.8,190.6 441.6,194.4 441.5,198.3 441.5,202.7 441.7,207.7 441.9,213.5 442.1,220.3 442.5,228.0 442.8,236.6 443.2,245.9 443.6,255.5 444.0,265.2 444.4,274.7 444.8,283.6 445.1,291.7 445.3,298.9 445.5,305.0 445.6,310.1 445.7,314.4 445.6,317.9 445.4,320.8 445.0,323.5 444.6,326.1 444.0,328.7 443.3,331.4 442.4,334.3 441.4,337.3 440.3,340.4 439.0,343.5 437.5,346.5 436.0,349.3 434.3,352.1 432.5,354.8 430.5,357.7 428.5,360.8 426.4,364.6 424.2,369.2 421.9,374.8 419.6,381.7 417.2,390.0 414.8,399.5 412.4,410.3 410.0,421.9 407.6,434.1 405.2,446.5 402.9,458.5 400.6,469.9"/><polyline points="480.0,136.8 478.9,142.0 478.0,147.2 477.2,152.6 476.6,158.2 476.0,163.8 475.7,169.3 475.4,174.7 475.3,179.9 475.3,184.8 475.4,189.3 475.5,193.7 475.8,197.9 476.1,202.2 476.5,206.8 476.9,211.8 477.3,217.6 477.7,224.2 478.2,231.7 478.6,240.2 479.0,249.3 479.3,259.1 479.6,269.0 479.8,278.9 479.9,288.3 479.9,296.9 479.8,304.4 479.6,310.6 479.3,315.5 478.9,319.1 478.3,321.5 477.6,323.0 476.7,323.9 475.7,324.5 474.5,325.2 473.2,326.2 471.8,327.8 470.2,330.1 468.6,333.2 466.7,337.1 464.8,341.7 462.8,346.7 460.7,352.2 458.5,357.9 456.2,363.8 453.9,369.8 451.6,376.1 449.2,382.5 446.8,389.4 444.4,396.9 442.1,405.0 439.7,413.9 437.5,423.5 435.2,433.9 433.1,444.8 431.0,456.0 429.0,467.2"/><polyline points="510.4,144.0 509.8,147.1 509.4,150.0 509.1,152.9 508.9,156.0 508.8,159.5 508.9,163.4 509.0,167.9 509.2,172.9 509.5,178.2 509.9,183.8 510.3,189.6 510.7,195.5 511.2,201.3 511.7,207.2 512.1,213.1 512.6,219.1 513.0,225.3 513.3,232.0 513.6,239.1 513.9,246.6 514.0,254.7 514.0,263.2 513.9,271.9 513.7,280.7 513.4,289.1 513.0,297.1 512.4,304.1 511.6,310.2 510.8,315.0 509.7,318.5 508.6,320.9 507.3,322.3 505.9,323.0 504.3,323.3 502.6,323.7 500.8,324.4 498.9,325.9 496.9,328.4 494.8,332.1 492.6,337.0 490.4,343.0 488.1,350.0 485.8,357.8 483.4,366.1 481.1,374.7 478.7,383.2 476.4,391.5 474.1,399.6 471.8,407.3 469.7,414.9 467.6,422.3 465.5,429.9 463.6,437.7 461.8,445.8 460.1,454.5 458.5,463.6"/><polyline points="542.3,148.2 542.2,150.8 542.2,152.7 542.3,154.1 542.5,155.6 542.7,157.2 543.1,159.4 543.5,162.4 543.9,166.3 544.4,171.1 544.9,176.9 545.4,183.4 545.9,190.5 546.4,197.9 546.8,205.6 547.2,213.1 547.5,220.5 547.7,227.6 547.8,234.3 547.9,240.8 547.8,247.2 547.6,253.4 547.3,259.7 546.8,266.1 546.2,272.7 545.5,279.4 544.6,286.1 543.6,292.7 542.5,299.1 541.2,305.0 539.7,310.3 538.2,314.8 536.5,318.6 534.7,321.6 532.8,323.9 530.8,325.9 528.7,327.8 526.5,329.8 524.3,332.3 522.0,335.6 519.7,340.0 517.4,345.5 515.1,352.1 512.8,359.9 510.5,368.5 508.2,377.7 506.0,387.3 503.9,396.8 501.9,406.1 499.9,414.9 498.0,423.0 496.3,430.5 494.6,437.4 493.1,443.9 491.8,450.3 490.5,456.8 489.4,463.7"/><polyline points="575.5,146.5 575.7,150.1 576.0,152.8 576.4,154.9 576.9,156.5 577.4,157.9 577.9,159.6 578.4,161.6 579.0,164.4 579.5,168.1 580.0,172.9 580.4,178.7 580.8,185.5 581.1,193.1 581.4,201.2 581.5,209.7 581.6,218.1 581.5,226.2 581.3,233.8 581.0,240.7 580.5,247.0 579.9,252.7 579.2,257.8 578.3,262.5 577.3,267.1 576.1,271.8 574.8,276.7 573.4,281.9 571.8,287.6 570.1,293.6 568.3,299.8 566.4,306.2 564.4,312.5 562.4,318.6 560.2,324.3 558.0,329.5 555.8,334.3 553.5,338.7 551.2,342.8 548.9,346.9 546.7,351.1 544.4,355.7 542.2,361.0 540.1,366.9 538.0,373.7 536.0,381.3 534.1,389.6 532.3,398.3 530.6,407.3 529.0,416.3 527.6,425.0 526.2,433.4 525.1,441.2 524.0,448.4 523.2,455.2 522.4,461.7 521.8,468.1"/><polyline points="609.6,139.7 610.1,144.5 610.6,148.8 611.2,152.8 611.8,156.2 612.3,159.3 612.9,162.1 613.4,164.7 613.8,167.5 614.3,170.6 614.6,174.3 614.8,178.6 615.0,183.8 615.0,189.8 615.0,196.5 614.8,203.9 614.4,211.8 614.0,219.8 613.4,227.6 612.6,235.2 611.8,242.1 610.7,248.5 609.6,254.1 608.3,259.0 606.8,263.5 605.3,267.7 603.6,271.9 601.8,276.3 599.9,281.2 597.9,286.8 595.9,293.0 593.7,300.0 591.6,307.7 589.3,315.8 587.1,324.1 584.8,332.3 582.6,340.2 580.3,347.6 578.1,354.4 576.0,360.3 573.9,365.6 571.9,370.4 569.9,374.7 568.1,378.9 566.3,383.3 564.7,388.1 563.2,393.5 561.8,399.6 560.6,406.4 559.4,414.0 558.5,422.1 557.7,430.6 557.0,439.4 556.4,448.2 556.0,456.9 555.8,465.4 555.6,473.6"/><polyline points="644.3,131.9 644.9,137.1 645.5,142.5 646.1,148.0 646.6,153.4 647.1,158.6 647.5,163.5 647.8,167.9 648.1,172.0 648.2,175.7 648.3,179.1 648.2,182.6 648.0,186.1 647.7,190.0 647.2,194.3 646.6,199.3 645.9,204.9 645.0,211.1 644.0,217.8 642.8,224.9 641.5,232.2 640.1,239.4 638.5,246.3 636.8,253.0 635.1,259.3 633.2,265.2 631.2,270.8 629.2,276.3 627.1,281.9 624.9,287.8 622.7,294.1 620.5,301.1 618.3,308.8 616.0,317.2 613.8,326.1 611.7,335.3 609.6,344.7 607.5,353.8 605.5,362.4 603.6,370.2 601.9,377.1 600.2,382.9 598.6,387.7 597.2,391.6 595.8,394.9 594.7,397.8 593.6,400.8 592.7,404.2 592.0,408.3 591.4,413.3 590.9,419.5 590.6,426.9 590.4,435.4 590.3,444.9 590.3,455.1 590.5,465.8 590.7,476.6"/><polyline points="679.0,127.7 679.6,132.4 680.1,137.7 680.5,143.5 680.9,149.6 681.1,155.9 681.3,162.1 681.4,168.1 681.3,173.6 681.1,178.6 680.8,182.8 680.3,186.4 679.7,189.5 679.0,192.3 678.1,194.9 677.0,197.7 675.9,200.9 674.6,204.7 673.1,209.3 671.6,214.8 669.9,221.2 668.1,228.4 666.2,236.3 664.3,244.7 662.3,253.3 660.2,262.0 658.0,270.5 655.9,278.8 653.7,286.9 651.5,294.6 649.3,302.2 647.1,309.8 645.0,317.4 643.0,325.1 641.0,333.2 639.0,341.4 637.2,349.9 635.5,358.4 633.8,366.8 632.3,374.9 631.0,382.4 629.7,389.1 628.6,394.9 627.6,399.7 626.8,403.6 626.1,406.8 625.6,409.4 625.2,412.0 624.9,414.7 624.8,418.1 624.8,422.5 624.9,428.1 625.1,435.2 625.4,443.8 625.8,453.7 626.2,464.9 626.7,476.9"/><polyline points="713.4,128.5 713.7,133.0 714.0,137.7 714.2,142.7 714.2,148.0 714.2,153.6 714.0,159.5 713.6,165.4 713.2,171.2 712.6,176.7 711.8,181.7 710.9,186.1 709.9,189.8 708.7,192.9 707.4,195.5 706.0,197.8 704.4,200.1 702.7,202.6 701.0,205.8 699.1,209.9 697.2,215.0 695.2,221.4 693.1,229.1 691.0,238.0 688.8,247.9 686.7,258.5 684.5,269.6 682.4,280.8 680.3,291.8 678.2,302.3 676.2,312.2 674.2,321.4 672.3,329.8 670.6,337.6 668.9,344.8 667.3,351.5 665.9,358.0 664.6,364.4 663.4,370.8 662.4,377.1 661.4,383.4 660.7,389.6 660.1,395.6 659.6,401.3 659.3,406.5 659.1,411.3 659.0,415.6 659.0,419.5 659.2,423.3 659.5,427.1 659.8,431.3 660.3,436.2 660.8,442.0 661.4,449.0 662.0,457.3 662.6,466.9 663.3,477.7"/><polyline points="746.8,131.6 746.9,136.9 746.8,141.6 746.6,146.0 746.3,150.1 745.8,154.3 745.2,158.4 744.5,162.8 743.6,167.2 742.5,171.8 741.4,176.4 740.0,181.0 738.6,185.4 737.1,189.5 735.4,193.3 733.6,196.9 731.8,200.3 729.9,203.7 727.9,207.4 725.8,211.5 723.7,216.4 721.6,222.3 719.5,229.3 717.3,237.7 715.2,247.3 713.2,258.1 711.1,269.8 709.2,282.1 707.3,294.7 705.5,307.1 703.7,319.0 702.1,330.0 700.6,340.0 699.2,348.7 698.0,356.2 696.9,362.5 695.9,367.9 695.1,372.6 694.4,376.8 693.8,380.9 693.4,385.1 693.2,389.6 693.0,394.5 693.0,399.8 693.1,405.5 693.3,411.5 693.7,417.7 694.1,423.9 694.6,430.0 695.1,436.0 695.8,441.8 696.4,447.7 697.1,453.6 697.8,459.8 698.5,466.5 699.2,473.8 699.8,481.8"/><polyline points="779.1,132.9 778.7,139.6 778.3,145.3 777.7,150.1 776.9,154.1 776.0,157.3 775.0,160.1 773.8,162.7 772.5,165.2 771.1,168.1 769.5,171.2 767.8,174.9 766.1,179.0 764.3,183.7 762.3,188.7 760.4,194.0 758.3,199.5 756.3,205.2 754.2,211.1 752.1,217.1 750.0,223.4 747.9,230.1 745.9,237.3 743.9,245.3 742.0,254.0 740.1,263.7 738.4,274.1 736.7,285.4 735.2,297.1 733.7,309.2 732.4,321.2 731.2,332.7 730.2,343.6 729.3,353.5 728.5,362.1 727.9,369.4 727.4,375.3 727.1,380.2 726.9,384.0 726.8,387.3 726.9,390.3 727.0,393.4 727.3,396.9 727.7,401.0 728.2,406.0 728.7,411.8 729.3,418.4 730.0,425.7 730.7,433.4 731.4,441.2 732.1,449.0 732.9,456.6 733.6,463.7 734.2,470.4 734.9,476.6 735.4,482.4 735.9,488.1"/><polyline points="809.9,130.0 809.1,137.9 808.2,144.9 807.2,150.9 806.0,155.8 804.7,159.7 803.3,162.6 801.7,164.8 800.1,166.6 798.4,168.3 796.5,170.3 794.6,172.8 792.7,176.1 790.7,180.3 788.6,185.5 786.6,191.7 784.5,198.7 782.4,206.4 780.4,214.5 778.4,223.0 776.5,231.6 774.6,240.2 772.8,248.7 771.1,257.2 769.5,265.7 768.0,274.3 766.7,283.1 765.4,292.2 764.3,301.6 763.3,311.3 762.5,321.3 761.8,331.5 761.2,341.6 760.8,351.4 760.5,360.7 760.4,369.2 760.4,376.9 760.5,383.5 760.7,389.0 761.1,393.7 761.5,397.7 762.0,401.2 762.6,404.5 763.3,408.1 764.0,412.1 764.7,416.8 765.5,422.3 766.3,428.6 767.0,435.7 767.7,443.4 768.4,451.4 769.1,459.5 769.7,467.2 770.2,474.4 770.6,481.0 770.9,486.6 771.1,491.5"/><polyline points="839.2,124.6 838.1,132.4 836.7,139.8 835.3,146.7 833.8,152.9 832.1,158.3 830.4,162.8 828.6,166.5 826.7,169.5 824.8,172.1 822.8,174.5 820.8,177.0 818.7,180.1 816.7,183.8 814.7,188.6 812.7,194.4 810.8,201.4 808.9,209.4 807.1,218.3 805.3,227.9 803.7,237.9 802.1,248.0 800.7,258.0 799.4,267.5 798.2,276.6 797.2,285.1 796.3,293.1 795.5,300.7 794.9,308.1 794.4,315.4 794.0,322.8 793.8,330.5 793.7,338.5 793.8,346.9 794.0,355.5 794.3,364.3 794.7,373.0 795.2,381.5 795.7,389.5 796.4,396.8 797.1,403.4 797.8,409.2 798.6,414.3 799.4,418.8 800.2,423.0 801.0,427.0 801.7,431.1 802.5,435.4 803.1,440.2 803.7,445.6 804.2,451.4 804.6,457.6 805.0,463.9 805.2,470.3 805.3,476.4 805.2,482.1 805.1,487.0"/><polyline points="867.2,120.4 865.6,126.9 864.0,133.5 862.3,140.2 860.5,147.0 858.6,153.6 856.7,160.0 854.7,166.0 852.7,171.5 850.7,176.6 848.7,181.3 846.8,185.6 844.8,189.9 842.9,194.3 841.1,199.0 839.3,204.3 837.6,210.3 836.0,217.2 834.6,225.0 833.2,233.6 831.9,242.8 830.8,252.6 829.8,262.5 829.0,272.3 828.3,281.8 827.7,290.7 827.3,299.0 827.0,306.6 826.9,313.5 826.9,319.9 827.0,326.0 827.3,332.0 827.6,338.3 828.1,345.0 828.6,352.2 829.2,360.1 829.9,368.6 830.7,377.6 831.5,386.8 832.3,396.1 833.1,405.1 833.9,413.5 834.7,421.1 835.5,427.7 836.3,433.3 836.9,437.9 837.5,441.5 838.1,444.5 838.5,447.1 838.8,449.5 839.0,452.0 839.1,454.7 839.1,457.9 838.9,461.6 838.6,465.7 838.2,470.1 837.6,474.8"/><polyline points="893.9,119.4 892.1,124.7 890.3,130.3 888.4,136.3 886.4,142.7 884.5,149.6 882.5,157.0 880.6,164.6 878.6,172.4 876.7,180.1 874.9,187.6 873.1,194.7 871.4,201.3 869.7,207.6 868.2,213.4 866.8,218.9 865.5,224.4 864.3,229.9 863.3,235.7 862.3,242.0 861.6,248.7 860.9,256.1 860.4,264.0 860.1,272.3 859.9,280.9 859.8,289.5 859.9,298.1 860.1,306.3 860.4,314.0 860.8,321.3 861.3,328.1 861.9,334.6 862.6,340.9 863.3,347.2 864.1,353.8 864.9,360.8 865.8,368.4 866.6,376.6 867.5,385.4 868.3,394.6 869.1,404.0 869.9,413.3 870.6,422.2 871.2,430.3 871.7,437.4 872.2,443.1 872.5,447.6 872.7,450.6 872.8,452.4 872.8,453.2 872.6,453.4 872.3,453.3 871.8,453.2 871.2,453.7 870.5,454.9 869.6,457.0 868.6,460.2"/><polyline points="919.9,120.8 918.0,126.5 916.1,132.1 914.1,137.9 912.2,144.2 910.3,150.9 908.5,158.3 906.6,166.3 904.9,174.8 903.2,183.7 901.7,192.8 900.2,201.8 898.8,210.4 897.6,218.6 896.5,226.0 895.5,232.6 894.7,238.4 893.9,243.5 893.4,248.1 893.0,252.4 892.7,256.6 892.5,261.1 892.5,266.0 892.7,271.6 892.9,277.9 893.3,284.9 893.7,292.5 894.3,300.7 895.0,309.3 895.7,317.9 896.5,326.6 897.3,335.0 898.2,343.1 899.1,351.0 899.9,358.5 900.8,365.9 901.7,373.2 902.5,380.5 903.3,388.0 904.0,395.7 904.6,403.5 905.2,411.5 905.6,419.3 906.0,426.8 906.2,433.8 906.3,439.9 906.2,444.9 906.0,448.7 905.7,451.1 905.3,452.3 904.7,452.4 903.9,451.7 903.0,450.6 902.0,449.5 900.9,448.8 899.6,449.0 898.2,450.5"/><polyline points="945.5,121.9 943.7,129.6 941.8,137.1 940.0,144.3 938.2,151.4 936.5,158.6 934.9,165.9 933.4,173.6 932.0,181.7 930.7,190.1 929.5,198.8 928.5,207.7 927.6,216.6 926.8,225.2 926.1,233.2 925.6,240.6 925.3,247.1 925.1,252.7 925.0,257.3 925.1,261.1 925.2,264.2 925.6,267.1 926.0,270.0 926.5,273.3 927.1,277.2 927.8,282.0 928.6,287.8 929.4,294.9 930.3,302.9 931.2,312.0 932.2,321.7 933.1,331.8 934.0,342.0 934.9,352.0 935.7,361.6 936.5,370.5 937.2,378.8 937.9,386.3 938.4,393.1 938.9,399.3 939.2,405.2 939.4,410.7 939.5,415.9 939.5,421.0 939.3,425.9 939.0,430.6 938.5,434.9 937.9,438.7 937.2,441.9 936.3,444.4 935.3,446.1 934.1,447.1 932.8,447.5 931.5,447.5 930.0,447.5 928.4,447.8 926.7,448.9"/><polyline points="971.3,121.8 969.6,131.9 968.0,141.9 966.4,151.5 965.0,160.7 963.6,169.4 962.4,177.6 961.3,185.5 960.3,193.0 959.4,200.3 958.7,207.5 958.1,214.6 957.7,221.8 957.4,228.9 957.3,235.9 957.3,242.6 957.4,248.9 957.7,254.6 958.0,259.8 958.5,264.2 959.1,268.0 959.8,271.2 960.5,274.1 961.4,277.0 962.2,280.0 963.1,283.6 964.1,288.0 965.0,293.5 966.0,300.2 966.9,308.1 967.9,317.1 968.7,327.1 969.5,337.8 970.3,348.7 970.9,359.6 971.5,370.0 971.9,379.5 972.3,388.1 972.5,395.4 972.6,401.5 972.5,406.4 972.4,410.3 972.0,413.5 971.6,416.1 971.0,418.5 970.2,420.9 969.3,423.4 968.3,426.1 967.2,429.1 965.9,432.2 964.5,435.5 963.0,438.7 961.4,441.9 959.8,444.8 958.1,447.6 956.3,450.3 954.5,453.1"/><polyline points="997.7,122.0 996.3,133.4 995.0,145.0 993.9,156.6 992.8,167.8 991.9,178.4 991.1,188.1 990.5,196.9 990.0,204.7 989.6,211.5 989.4,217.5 989.3,222.9 989.4,227.9 989.6,232.6 989.9,237.3 990.3,242.0 990.9,246.7 991.5,251.6 992.2,256.6 993.0,261.5 993.9,266.4 994.8,271.0 995.8,275.5 996.8,279.7 997.8,283.9 998.7,288.1 999.7,292.6 1000.6,297.5 1001.5,303.0 1002.3,309.3 1003.1,316.6 1003.8,324.7 1004.3,333.7 1004.8,343.3 1005.1,353.3 1005.3,363.3 1005.4,373.0 1005.4,382.1 1005.2,390.2 1004.9,397.1 1004.4,402.7 1003.8,406.9 1003.0,410.0 1002.2,412.1 1001.1,413.5 1000.0,414.7 998.7,415.8 997.4,417.3 995.9,419.4 994.3,422.3 992.7,426.0 991.0,430.4 989.2,435.5 987.4,441.0 985.6,446.7 983.7,452.4 981.9,458.0"/><polyline points="1025.2,125.6 1024.2,136.4 1023.3,147.8 1022.6,159.5 1022.0,171.2 1021.6,182.5 1021.3,193.1 1021.2,202.9 1021.1,211.5 1021.3,218.8 1021.5,224.9 1021.9,229.8 1022.4,233.7 1023.0,237.0 1023.7,239.8 1024.5,242.5 1025.3,245.4 1026.3,248.7 1027.2,252.5 1028.2,257.0 1029.2,262.0 1030.3,267.5 1031.3,273.3 1032.3,279.4 1033.2,285.4 1034.1,291.4 1035.0,297.3 1035.7,303.0 1036.4,308.5 1037.0,314.1 1037.4,319.8 1037.8,325.7 1038.0,332.1 1038.1,338.9 1038.0,346.2 1037.8,353.9 1037.5,361.8 1037.0,369.8 1036.4,377.6 1035.7,385.0 1034.8,391.7 1033.8,397.5 1032.6,402.4 1031.4,406.2 1030.0,409.3 1028.5,411.6 1027.0,413.5 1025.3,415.4 1023.7,417.5 1021.9,420.1 1020.1,423.5 1018.3,427.7 1016.5,433.0 1014.7,439.1 1013.0,445.9 1011.2,453.1 1009.6,460.4"/><polyline points="1053.9,133.5 1053.4,142.7 1053.0,152.3 1052.8,162.2 1052.7,172.3 1052.8,182.5 1053.0,192.5 1053.3,202.0 1053.8,210.9 1054.3,218.8 1055.0,225.7 1055.7,231.5 1056.6,236.2 1057.5,239.9 1058.4,242.7 1059.4,245.1 1060.5,247.3 1061.5,249.5 1062.6,252.2 1063.6,255.6 1064.6,259.7 1065.6,264.7 1066.5,270.5 1067.4,276.9 1068.2,283.8 1068.8,291.0 1069.4,298.1 1069.9,304.9 1070.2,311.3 1070.4,317.2 1070.5,322.5 1070.5,327.4 1070.3,331.9 1070.0,336.3 1069.5,340.8 1068.9,345.6 1068.1,350.8 1067.2,356.5 1066.2,362.8 1065.1,369.4 1063.8,376.4 1062.4,383.5 1061.0,390.5 1059.4,397.1 1057.8,403.3 1056.2,408.8 1054.4,413.7 1052.7,418.1 1050.9,422.1 1049.2,425.8 1047.4,429.5 1045.7,433.5 1044.0,438.0 1042.3,443.0 1040.8,448.7 1039.3,454.9 1037.9,461.7"/><polyline points="1084.2,142.7 1084.1,150.6 1084.3,158.4 1084.5,166.0 1084.9,173.7 1085.4,181.4 1086.0,189.3 1086.7,197.2 1087.5,205.1 1088.4,212.8 1089.4,220.1 1090.4,227.0 1091.4,233.2 1092.5,238.6 1093.6,243.3 1094.7,247.3 1095.8,250.7 1096.8,253.7 1097.8,256.4 1098.7,259.3 1099.6,262.5 1100.4,266.3 1101.1,270.7 1101.7,275.8 1102.1,281.5 1102.5,287.9 1102.7,294.5 1102.8,301.3 1102.7,307.9 1102.5,314.1 1102.2,319.8 1101.7,324.8 1101.1,329.2 1100.3,333.0 1099.4,336.4 1098.4,339.8 1097.3,343.2 1096.0,347.1 1094.7,351.6 1093.2,357.0 1091.7,363.3 1090.1,370.6 1088.5,378.5 1086.8,387.1 1085.0,395.9 1083.3,404.7 1081.6,413.2 1079.8,421.1 1078.2,428.2 1076.5,434.6 1074.9,440.1 1073.4,444.9 1071.9,449.1 1070.6,453.1 1069.4,457.0 1068.2,461.0 1067.2,465.4"/><polyline points="1115.9,148.5 1116.3,156.1 1116.9,163.0 1117.6,169.4 1118.3,175.3 1119.2,181.1 1120.1,186.8 1121.1,192.6 1122.2,198.8 1123.3,205.3 1124.4,212.1 1125.5,219.1 1126.6,226.3 1127.7,233.4 1128.8,240.2 1129.8,246.5 1130.7,252.3 1131.6,257.3 1132.4,261.7 1133.1,265.5 1133.7,268.8 1134.2,271.9 1134.5,274.9 1134.7,278.0 1134.8,281.4 1134.8,285.3 1134.6,289.7 1134.2,294.5 1133.7,299.7 1133.1,305.1 1132.4,310.5 1131.5,315.9 1130.4,321.0 1129.3,325.7 1128.1,330.2 1126.7,334.3 1125.3,338.3 1123.8,342.4 1122.2,346.9 1120.6,351.9 1118.9,357.8 1117.2,364.6 1115.5,372.4 1113.8,381.3 1112.1,390.9 1110.5,401.2 1108.8,411.6 1107.3,422.0 1105.8,431.8 1104.4,440.8 1103.2,448.7 1102.0,455.4 1100.9,460.8 1100.0,465.0 1099.1,468.2 1098.5,470.8 1097.9,473.0"/><polyline points="1148.9,147.6 1149.7,155.4 1150.6,162.5 1151.6,169.0 1152.7,174.9 1153.8,180.3 1154.9,185.4 1156.0,190.4 1157.2,195.5 1158.3,200.8 1159.5,206.7 1160.5,213.1 1161.6,220.0 1162.5,227.4 1163.4,235.1 1164.2,242.8 1164.9,250.3 1165.5,257.4 1166.0,263.7 1166.4,269.2 1166.6,273.7 1166.6,277.2 1166.6,279.9 1166.4,281.9 1166.0,283.6 1165.6,285.0 1164.9,286.6 1164.2,288.7 1163.3,291.3 1162.3,294.6 1161.1,298.6 1159.9,303.4 1158.6,308.8 1157.1,314.6 1155.6,320.8 1154.1,327.1 1152.5,333.5 1150.8,340.0 1149.2,346.5 1147.5,353.1 1145.8,359.9 1144.2,367.2 1142.6,374.9 1141.0,383.3 1139.5,392.3 1138.1,402.0 1136.8,412.1 1135.5,422.4 1134.4,432.7 1133.4,442.6 1132.5,451.9 1131.8,460.1 1131.1,467.1 1130.7,472.7 1130.3,477.0 1130.1,480.1 1130.1,482.3"/><polyline points="1182.9,141.2 1184.0,148.6 1185.2,155.9 1186.3,163.2 1187.5,170.1 1188.7,176.8 1189.9,183.0 1191.0,189.0 1192.1,194.7 1193.2,200.3 1194.2,206.0 1195.1,211.9 1195.9,218.1 1196.6,224.7 1197.2,231.7 1197.6,239.0 1198.0,246.5 1198.2,253.8 1198.3,260.9 1198.2,267.3 1198.0,272.8 1197.7,277.4 1197.2,280.9 1196.6,283.3 1195.8,284.7 1194.9,285.4 1193.9,285.7 1192.8,286.0 1191.5,286.6 1190.2,287.8 1188.8,290.1 1187.3,293.5 1185.8,298.1 1184.2,304.1 1182.6,311.2 1180.9,319.2 1179.3,328.0 1177.6,337.3 1176.0,346.7 1174.5,356.2 1173.0,365.5 1171.5,374.5 1170.2,383.2 1168.9,391.8 1167.7,400.2 1166.6,408.5 1165.7,417.0 1164.9,425.5 1164.2,434.1 1163.7,442.7 1163.2,451.2 1163.0,459.3 1162.9,466.9 1162.9,473.8 1163.0,479.8 1163.3,484.9 1163.8,489.0"/><polyline points="1217.6,133.8 1218.8,139.8 1220.0,146.5 1221.2,153.8 1222.4,161.6 1223.5,169.7 1224.6,177.8 1225.6,185.7 1226.5,193.4 1227.3,200.7 1228.0,207.6 1228.6,214.1 1229.1,220.3 1229.4,226.2 1229.6,232.1 1229.7,238.0 1229.6,243.8 1229.4,249.7 1229.1,255.5 1228.6,261.2 1228.0,266.5 1227.2,271.3 1226.3,275.5 1225.3,278.9 1224.2,281.4 1223.0,283.3 1221.6,284.4 1220.2,285.2 1218.8,285.9 1217.2,286.9 1215.7,288.4 1214.1,290.9 1212.5,294.7 1210.9,299.9 1209.3,306.7 1207.7,314.9 1206.2,324.4 1204.7,335.0 1203.4,346.2 1202.0,357.8 1200.8,369.4 1199.7,380.6 1198.7,391.1 1197.8,400.9 1197.1,409.8 1196.5,417.8 1196.0,425.2 1195.6,432.0 1195.4,438.5 1195.4,444.9 1195.5,451.3 1195.7,457.8 1196.1,464.5 1196.5,471.3 1197.1,478.1 1197.9,484.8 1198.7,491.3"/><polyline points="1252.3,129.4 1253.5,133.8 1254.7,139.2 1255.8,145.7 1256.8,153.2 1257.7,161.5 1258.5,170.5 1259.2,179.9 1259.8,189.3 1260.3,198.5 1260.7,207.2 1260.9,215.2 1260.9,222.4 1260.9,228.8 1260.7,234.3 1260.3,239.2 1259.8,243.5 1259.2,247.5 1258.4,251.2 1257.5,254.9 1256.5,258.7 1255.4,262.5 1254.2,266.3 1252.9,270.1 1251.5,273.9 1250.0,277.4 1248.5,280.7 1247.0,283.8 1245.4,286.7 1243.9,289.5 1242.3,292.5 1240.7,295.9 1239.2,299.9 1237.7,304.8 1236.3,310.8 1235.0,318.0 1233.7,326.5 1232.6,336.2 1231.5,346.9 1230.6,358.4 1229.8,370.4 1229.1,382.4 1228.5,394.1 1228.1,405.1 1227.8,415.1 1227.7,424.1 1227.7,432.0 1227.9,438.8 1228.2,444.8 1228.6,450.1 1229.1,455.2 1229.8,460.2 1230.6,465.5 1231.5,471.3 1232.5,477.7 1233.5,484.6 1234.6,492.1"/><polyline points="1286.8,128.7 1287.8,132.6 1288.7,137.2 1289.5,142.6 1290.3,148.9 1290.9,156.3 1291.3,164.6 1291.7,173.6 1291.9,183.2 1292.0,193.0 1291.9,202.6 1291.7,211.7 1291.3,220.1 1290.8,227.6 1290.2,233.9 1289.4,239.1 1288.5,243.3 1287.5,246.6 1286.4,249.2 1285.2,251.5 1283.9,253.8 1282.5,256.2 1281.1,259.0 1279.6,262.4 1278.1,266.4 1276.6,270.9 1275.0,276.0 1273.5,281.4 1272.0,287.0 1270.5,292.7 1269.1,298.5 1267.7,304.2 1266.4,309.9 1265.2,315.8 1264.1,321.8 1263.1,328.3 1262.3,335.3 1261.5,343.1 1260.9,351.6 1260.4,360.9 1260.1,370.9 1259.9,381.5 1259.8,392.3 1259.9,403.2 1260.1,413.8 1260.5,423.9 1260.9,433.2 1261.6,441.7 1262.3,449.1 1263.1,455.7 1264.1,461.6 1265.1,467.0 1266.2,472.3 1267.4,477.6 1268.6,483.3 1269.8,489.6 1271.1,496.7"/><polyline points="1320.3,129.3 1321.1,134.1 1321.7,139.0 1322.2,144.2 1322.5,149.9 1322.7,156.0 1322.8,162.7 1322.7,170.0 1322.5,178.0 1322.1,186.4 1321.6,195.1 1321.0,203.9 1320.2,212.4 1319.3,220.5 1318.3,227.9 1317.2,234.3 1316.0,239.8 1314.8,244.2 1313.4,247.8 1312.0,250.7 1310.5,253.1 1309.0,255.4 1307.5,257.9 1306.0,260.9 1304.5,264.6 1303.0,269.1 1301.6,274.6 1300.2,280.9 1298.9,288.0 1297.7,295.6 1296.5,303.6 1295.5,311.6 1294.6,319.4 1293.8,327.0 1293.1,334.1 1292.5,340.9 1292.1,347.4 1291.8,353.8 1291.7,360.2 1291.7,366.9 1291.8,374.0 1292.1,381.8 1292.6,390.2 1293.1,399.3 1293.8,408.9 1294.6,418.9 1295.5,429.1 1296.5,439.2 1297.6,449.0 1298.7,458.2 1299.9,466.8 1301.2,474.7 1302.5,481.9 1303.8,488.6 1305.1,494.9 1306.4,501.1 1307.7,507.3"/><polyline points="1352.8,128.1 1353.1,134.5 1353.3,140.8 1353.4,146.9 1353.3,152.7 1353.1,158.4 1352.7,164.1 1352.2,169.8 1351.6,175.6 1350.8,181.8 1349.9,188.4 1348.9,195.3 1347.8,202.6 1346.7,210.0 1345.4,217.5 1344.1,224.9 1342.7,232.0 1341.2,238.5 1339.8,244.5 1338.3,249.8 1336.8,254.6 1335.3,258.8 1333.9,262.8 1332.5,266.7 1331.2,270.8 1329.9,275.3 1328.8,280.4 1327.7,286.3 1326.7,293.1 1325.8,300.5 1325.1,308.6 1324.4,317.0 1324.0,325.6 1323.6,334.1 1323.4,342.2 1323.3,349.8 1323.4,356.8 1323.6,363.1 1324.0,368.9 1324.5,374.4 1325.1,379.8 1325.8,385.4 1326.7,391.5 1327.6,398.3 1328.7,406.0 1329.8,414.8 1331.0,424.4 1332.3,434.9 1333.6,445.9 1334.9,457.2 1336.3,468.4 1337.6,479.3 1338.9,489.5 1340.2,498.8 1341.5,507.2 1342.7,514.6 1343.9,521.0"/><polyline points="1383.8,125.1 1383.7,132.2 1383.5,139.4 1383.1,146.4 1382.6,153.0 1382.0,159.2 1381.2,164.9 1380.3,170.1 1379.4,175.0 1378.3,179.8 1377.1,184.6 1375.8,189.7 1374.5,195.2 1373.1,201.3 1371.7,208.0 1370.3,215.3 1368.8,223.1 1367.4,231.2 1366.0,239.5 1364.6,247.7 1363.3,255.6 1362.0,263.0 1360.8,270.0 1359.6,276.3 1358.6,282.2 1357.7,287.7 1356.9,293.0 1356.2,298.4 1355.6,303.9 1355.2,309.7 1354.9,316.0 1354.8,322.8 1354.8,329.9 1354.9,337.4 1355.2,345.0 1355.6,352.5 1356.2,359.8 1356.9,366.8 1357.7,373.3 1358.6,379.4 1359.6,385.1 1360.7,390.7 1361.9,396.3 1363.1,402.2 1364.5,408.8 1365.8,416.2 1367.2,424.7 1368.5,434.2 1369.9,444.7 1371.3,456.1 1372.6,468.1 1373.9,480.3 1375.1,492.3 1376.3,503.7 1377.3,514.1 1378.3,523.2 1379.2,530.9"/><polyline points="1413.3,122.5 1412.8,128.6 1412.2,135.1 1411.4,141.9 1410.5,148.7 1409.6,155.3 1408.5,161.6 1407.3,167.5 1406.1,173.0 1404.8,178.1 1403.4,182.9 1402.0,187.7 1400.6,192.7 1399.2,198.1 1397.8,204.1 1396.4,210.9 1395.1,218.5 1393.8,227.0 1392.6,236.3 1391.4,246.1 1390.3,256.1 1389.4,266.2 1388.5,275.9 1387.7,285.1 1387.1,293.4 1386.6,300.9 1386.3,307.4 1386.1,313.1 1386.0,318.1 1386.1,322.5 1386.3,326.7 1386.6,331.0 1387.1,335.4 1387.7,340.3 1388.5,345.7 1389.4,351.7 1390.3,358.2 1391.4,365.0 1392.6,372.2 1393.8,379.5 1395.1,386.8 1396.4,394.0 1397.8,401.2 1399.2,408.4 1400.6,415.7 1402.0,423.2 1403.4,431.2 1404.8,439.7 1406.1,448.9 1407.3,458.8 1408.5,469.4 1409.6,480.4 1410.5,491.6 1411.4,502.8 1412.2,513.4 1412.8,523.2 1413.3,531.7"/><path stroke="#ebebeb" d="M81.3 100.7L95.1 105.3M81.2 118.2L94.8 123.4M80.8 136.4L94.1 142.0M80.1 153.3L93.0 158.9M79.0 167.5L91.5 172.6M77.5 179.1L89.5 183.3M75.5 188.9L86.9 192.1M73.0 198.3L83.8 200.6M69.8 208.3L80.1 210.1M66.2 218.8L75.9 220.9M62.0 229.1L71.3 232.3M57.4 238.6L66.3 243.6M52.4 246.9L61.0 254.0M47.1 255.0L55.6 264.0M41.6 264.6L50.0 274.7M36.1 277.3L44.5 287.9M30.5 294.2L39.1 304.5M25.1 314.7L34.0 324.2M19.9 337.0L29.2 345.5M15.1 358.6L24.9 366.3M10.7 377.4L21.0 384.5M6.7 392.7L17.6 399.5M3.3 405.4L14.8 412.1M0.4 417.3L12.6 424.0M-1.9 430.4L10.8 437.3M-3.7 445.6L9.6 452.7M-5.0 462.3L8.8 469.8M-5.9 478.9L8.3 486.6M115.8 96.9L129.2 102.4M115.3 112.8L128.4 118.2M114.5 131.1L127.1 136.1M113.2 149.6L125.3 154.1M111.4 166.0L123.0 170.0M109.1 179.2L120.2 182.7M106.3 189.0L116.8 192.4M102.9 197.0L112.8 200.4M99.0 205.0L108.4 208.7M94.6 214.7L103.6 219.2M89.8 226.6L98.5 232.2M84.7 240.0L93.2 247.1M79.3 253.8L87.7 262.4M73.8 266.7L82.2 276.5M68.3 278.5L76.8 289.0M62.9 290.1L71.7 300.5M57.7 302.9L66.8 312.4M52.8 318.3L62.4 326.5M48.3 336.4L58.4 343.2M44.2 356.3L54.9 362.3M40.6 376.3L51.9 381.9M37.6 394.4L49.5 400.5M35.2 409.8L47.7 416.8M33.3 423.0L46.3 430.9M31.8 435.4L45.4 443.9M30.9 448.8L44.9 457.4M30.3 464.1L44.6 472.2M30.0 480.7L44.5 487.8M149.6 97.9L162.3 103.8M148.5 110.5L160.8 115.8M147.0 125.6L158.8 130.1M145.0 142.6L156.2 146.3M142.4 159.8L153.1 163.0M139.3 175.5L149.4 178.8M135.6 188.4L145.2 192.4M131.5 198.7L140.6 203.8M126.9 207.6L135.7 213.9M121.9 217.1L130.5 224.4M116.7 228.7L125.1 237.0M111.3 243.1L119.7 252.0M105.9 259.4L114.3 268.7M100.5 275.9L109.1 285.3M95.3 290.8L104.2 300.0M90.3 303.4L99.7 312.0M85.7 314.1L95.5 321.9M81.5 324.6L91.9 331.4M77.8 337.0L88.8 342.8M74.7 352.4L86.3 357.7M72.1 370.8L84.3 376.2M70.0 390.9L82.8 397.1M68.5 410.6L81.8 418.0M67.4 428.4L81.2 436.9M66.8 443.7L81.0 452.9M66.4 457.0L80.9 466.0M66.3 469.7L80.9 477.4M66.3 482.5L81.0 488.2M182.3 101.7L194.2 106.9M180.5 111.8L191.9 116.6M178.2 123.0L189.0 127.2M175.3 136.2L185.6 139.9M171.9 151.7L181.7 155.3M168.0 168.6L177.3 172.7M163.7 185.3L172.6 190.7M158.9 200.6L167.5 207.6M153.8 214.0L162.3 222.5M148.6 225.9L156.9 235.7M143.2 237.7L151.6 248.1M137.8 250.8L146.4 261.0M132.6 265.8L141.4 275.1M127.6 281.9L136.8 290.2M122.9 297.8L132.6 304.9M118.6 311.7L128.8 317.9M114.8 322.8L125.6 328.5M111.5 331.8L122.9 337.3M108.8 340.6L120.8 346.2M106.6 351.6L119.2 357.4M104.9 366.5L118.1 372.9M103.8 385.6L117.4 392.7M103.0 407.6L117.1 415.4M102.6 429.8L117.0 438.2M102.5 449.7L117.1 458.1M102.6 465.5L117.2 473.2M102.7 477.3L117.3 483.4M102.7 486.0L117.1 489.8M213.6 103.8L224.7 108.0M211.1 114.0L221.5 118.2M207.9 123.5L217.9 127.7M204.3 133.8L213.7 138.3M200.1 146.5L209.2 151.7M195.6 162.6L204.3 168.7M190.7 181.3L199.1 188.7M185.5 201.2L193.9 210.0M180.2 220.3L188.6 230.3M174.9 237.0L183.4 247.9M169.7 251.1L178.4 262.0M164.7 263.4L173.7 273.5M159.9 275.1L169.4 283.7M155.5 287.3L165.5 294.1M151.6 300.3L162.1 305.4M148.2 313.4L159.3 317.5M145.3 325.5L157.1 329.4M143.0 336.1L155.3 340.5M141.2 345.5L154.1 351.0M139.9 355.3L153.4 362.0M139.1 367.5L153.0 375.2M138.6 383.8L152.9 391.9M138.5 404.1L153.0 412.2M138.6 427.0L153.2 434.5M138.7 449.3L153.3 455.9M138.9 468.2L153.3 473.3M138.9 481.5L153.1 484.8M138.6 489.0L152.6 490.4M243.6 102.0L253.7 105.2M240.2 113.9L249.8 117.6M236.3 124.8L245.4 129.5M231.9 135.4L240.7 141.4M227.2 147.3L235.7 154.7M222.2 162.1L230.6 170.7M217.0 180.5L225.4 190.1M211.8 201.9L220.2 212.2M206.6 224.5L215.2 235.1M201.5 245.7L210.4 256.1M196.7 263.4L206.0 273.2M192.2 276.7L202.0 285.4M188.2 286.4L198.5 293.5M184.6 294.2L195.6 299.7M181.6 302.2L193.1 306.2M179.2 311.7L191.3 314.9M177.2 323.0L190.0 326.2M175.8 335.4L189.1 339.5M174.9 348.0L188.6 353.6M174.4 360.4L188.5 367.5M174.2 373.1L188.6 381.3M174.3 387.2L188.9 395.7M174.5 403.9L189.1 411.6M174.7 423.0L189.2 429.2M174.9 443.3L189.2 447.6M174.8 462.4L188.8 464.6M174.4 477.5L188.1 477.9M173.7 486.8L186.9 486.0M272.1 97.7L281.4 101.0M268.0 110.7L276.9 114.8M263.5 124.5L272.1 130.1M258.6 138.6L267.0 146.0M253.6 152.8L261.9 162.2M248.4 168.2L256.7 178.9M243.2 185.7L251.7 197.1M238.1 205.8L246.9 217.0M233.3 227.8L242.4 238.2M228.8 249.9L238.3 259.1M224.6 269.8L234.7 277.6M220.9 285.3L231.6 291.7M217.8 295.8L229.1 300.9M215.2 302.0L227.1 306.3M213.1 306.5L225.6 310.1M211.6 311.8L224.6 315.3M210.6 320.2L224.1 324.0M210.0 332.1L223.9 336.7M209.7 346.9L224.0 352.5M209.8 362.8L224.3 369.6M210.0 378.4L224.6 385.8M210.3 392.9L224.9 400.2M210.6 406.7L225.0 413.0M210.7 420.7L224.8 425.2M210.5 435.5L224.3 437.8M210.0 450.8L223.3 451.0M209.0 465.3L221.9 464.0M207.6 477.0L219.9 475.2M299.4 95.5L308.1 99.9M294.7 107.6L303.2 113.1M289.8 123.1L298.1 130.1M284.7 140.9L293.0 149.6M279.6 159.4L288.0 169.8M274.5 177.8L283.2 189.3M269.7 195.8L278.6 207.5M265.1 213.9L274.4 224.9M260.8 232.6L270.7 242.1M257.0 251.7L267.5 259.4M253.7 270.3L264.8 276.0M251.0 286.6L262.6 290.8M248.8 299.1L261.1 302.6M247.1 307.3L260.0 310.7M246.0 312.3L259.3 316.0M245.3 316.1L259.1 320.5M245.0 321.7L259.2 326.7M245.1 330.9L259.5 336.4M245.3 344.5L259.8 350.2M245.6 361.1L260.2 366.9M246.0 378.7L260.4 384.2M246.2 394.9L260.5 399.8M246.2 408.5L260.1 412.2M245.9 419.5L259.4 421.9M245.2 429.2L258.2 430.1M244.0 439.2L256.5 438.8M242.3 450.3L254.2 449.2M240.0 462.4L251.4 461.5M325.8 98.6L334.1 104.9M320.8 108.9L329.1 116.5M315.7 123.8L324.1 132.5M310.7 142.7L319.2 152.5M305.8 164.1L314.6 174.7M301.2 185.8L310.3 196.6M296.9 205.8L306.5 216.3M293.0 223.5L303.2 233.1M289.5 239.2L300.3 247.2M286.6 253.9L298.0 260.1M284.3 268.4L296.3 272.8M282.5 282.7L295.1 285.9M281.2 296.1L294.4 298.9M280.5 307.5L294.1 310.6M280.1 316.2L294.1 320.2M280.1 322.6L294.4 327.6M280.3 328.1L294.8 333.9M280.7 334.9L295.3 340.8M281.1 344.6L295.6 350.0M281.5 357.8L295.8 362.2M281.6 373.6L295.7 376.7M281.5 389.7L295.2 391.7M281.0 404.1L294.2 405.1M280.1 415.4L292.8 415.8M278.6 423.8L290.8 424.1M276.6 431.0L288.2 431.4M274.1 439.1L285.1 440.0M271.0 449.7L281.5 451.4M351.6 106.9L359.9 115.0M346.6 116.7L355.0 126.0M341.8 129.7L350.4 139.8M337.1 146.7L346.1 156.9M332.7 167.2L342.1 177.1M328.7 189.4L338.6 198.6M325.1 210.9L335.7 219.1M322.1 229.6L333.3 236.7M319.6 244.8L331.4 250.8M317.7 256.9L330.1 261.9M316.3 267.7L329.2 271.8M315.4 278.7L328.9 282.2M315.0 290.8L328.8 294.1M314.9 303.7L329.1 307.4M315.1 316.2L329.5 320.6M315.5 327.1L330.1 332.1M316.0 335.5L330.5 340.9M316.5 342.1L330.8 347.3M316.8 348.4L330.9 352.7M316.8 356.1L330.6 358.9M316.6 366.3L329.9 367.4M315.8 378.9L328.7 378.6M314.7 392.5L327.0 391.6M312.9 405.4L324.7 404.9M310.7 416.5L321.9 417.0M307.9 425.7L318.5 427.7M304.5 434.4L314.7 438.0M300.7 444.4L310.4 449.4M377.5 116.9L386.0 126.0M372.7 128.6L381.6 138.6M368.3 140.7L377.6 151.0M364.2 154.6L374.0 164.3M360.6 171.0L370.9 179.6M357.4 189.8L368.3 197.0M354.8 209.7L366.3 215.5M352.7 228.8L364.8 233.5M351.2 245.2L363.9 249.4M350.2 258.4L363.4 262.5M349.6 268.8L363.3 273.1M349.5 278.2L363.6 282.7M349.7 288.3L364.0 292.9M350.1 300.2L364.6 304.9M350.6 313.6L365.1 318.3M351.2 327.1L365.6 331.6M351.6 338.9L365.8 342.8M351.8 347.4L365.8 350.6M351.8 352.9L365.3 355.1M351.3 356.6L364.3 357.6M350.4 360.8L362.9 360.7M348.9 367.6L360.9 366.7M346.9 377.8L358.3 376.9M344.4 391.1L355.2 391.1M341.3 405.8L351.6 407.6M337.7 420.4L347.6 424.4M333.7 433.9L343.2 440.1M329.3 446.6L338.5 454.3M403.7 125.0L412.8 134.1M399.5 139.7L409.1 148.9M395.8 152.8L405.9 161.7M392.5 164.7L403.2 172.8M389.7 176.7L401.0 183.5M387.5 190.0L399.4 195.3M385.8 205.3L398.3 209.4M384.7 222.3L397.8 225.5M384.1 239.5L397.6 242.7M383.9 255.4L397.8 259.2M384.0 269.0L398.2 273.7M384.4 280.4L398.8 285.8M385.0 290.4L399.5 296.3M385.6 300.6L400.1 306.2M386.2 312.0L400.5 316.7M386.5 324.3L400.6 327.8M386.7 336.4L400.3 338.4M386.4 346.3L399.6 347.1M385.7 353.0L398.4 352.9M384.5 356.3L396.7 355.7M382.8 357.9L394.4 357.3M380.5 360.5L391.5 360.4M377.7 366.7L388.2 367.5M374.4 378.0L384.4 380.3M370.6 394.2L380.2 398.4M366.3 413.5L375.7 419.7M361.8 433.3L370.9 441.3M357.1 451.6L366.1 460.7M430.8 130.5L440.7 138.7M427.4 146.4L437.8 153.8M424.5 160.7L435.5 167.3M422.1 172.6L433.8 178.2M420.3 182.4L432.6 187.1M419.1 191.5L431.9 195.4M418.3 201.8L431.7 205.1M418.0 214.8L431.8 217.9M418.1 230.6L432.2 234.1M418.5 248.2L432.9 252.4M419.1 265.8L433.6 270.9M419.8 281.5L434.2 287.4M420.4 294.5L434.8 300.5M420.9 304.8L435.1 310.3M421.2 313.6L435.0 317.7M421.2 322.0L434.6 324.3M420.7 330.6L433.6 331.1M419.8 339.1L432.2 338.1M418.4 346.4L430.1 344.7M416.3 351.7L427.6 350.4M413.8 355.1L424.5 355.0M410.7 358.1L420.9 359.6M407.1 363.0L416.9 366.5M403.1 372.3L412.5 377.7M398.8 387.3L407.9 394.3M394.2 407.6L403.2 415.8M389.4 430.9L398.4 439.8M384.6 454.1L393.7 463.1M459.1 135.1L469.9 142.0M456.6 148.9L468.0 154.2M454.7 162.4L466.7 166.3M453.3 174.5L465.9 177.6M452.4 184.5L465.5 187.3M452.0 192.8L465.6 195.7M452.0 200.8L466.0 204.2M452.4 210.6L466.6 214.6M452.9 223.7L467.4 228.3M453.7 240.4L468.1 245.5M454.4 259.6L468.8 265.0M455.1 278.8L469.3 284.2M455.5 295.5L469.4 300.6M455.7 308.2L469.2 312.4M455.4 316.5L468.5 319.4M454.8 321.8L467.3 323.0M453.6 325.8L465.5 325.4M451.8 330.3L463.2 328.9M449.6 336.1L460.4 334.5M446.7 342.9L457.1 342.2M443.4 350.2L453.3 351.3M439.6 357.5L449.1 361.1M435.4 365.4L444.7 371.5M431.0 375.3L440.0 383.4M426.3 388.7L435.3 398.0M421.6 406.7L430.7 416.3M416.9 428.8L426.1 437.9M412.3 452.7L421.9 461.0M488.8 140.8L500.6 146.0M487.2 149.8L499.6 153.3M486.2 159.7L499.2 161.9M485.7 170.4L499.2 171.8M485.7 181.1L499.5 182.7M486.0 191.2L500.1 193.6M486.6 200.7L500.9 204.4M487.3 210.5L501.8 215.4M488.1 221.9L502.5 227.7M488.9 236.2L503.2 242.2M489.5 253.5L503.5 259.0M489.8 272.5L503.5 277.2M489.8 290.9L503.0 294.4M489.4 306.1L502.1 308.4M488.5 316.4L500.6 317.6M487.0 321.8L498.6 322.1M485.0 323.7L496.0 323.5M482.4 325.0L492.9 324.6M479.3 328.0L489.4 328.2M475.8 334.4L485.4 335.8M471.8 344.2L481.1 347.5M467.5 356.4L476.6 362.0M463.0 369.6L472.0 377.4M458.3 383.1L467.3 392.5M453.7 397.1L462.8 407.3M449.1 412.5L458.5 422.4M444.8 430.2L454.5 439.1M440.7 450.4L450.9 457.9M519.9 146.6L532.6 150.1M519.3 151.7L532.5 153.9M519.1 157.0L532.8 158.4M519.4 164.3L533.4 165.4M519.9 174.1L534.2 175.7M520.7 185.8L535.1 188.5M521.6 198.5L536.0 202.5M522.4 211.2L536.7 216.5M523.2 223.7L537.3 229.8M523.7 236.5L537.5 242.6M523.9 250.6L537.3 255.8M523.7 266.1L536.6 269.8M523.0 282.3L535.4 284.5M521.8 297.7L533.6 298.5M520.1 310.2L531.3 310.2M517.8 318.5L528.5 318.6M514.9 322.8L525.1 323.5M511.6 324.6L521.4 326.4M507.9 326.8L517.3 329.9M503.7 331.9L512.9 336.5M499.4 341.5L508.3 347.6M494.8 355.6L503.8 363.0M490.2 372.5L499.3 381.0M485.7 390.1L494.9 399.2M481.3 406.6L490.9 416.0M477.2 421.6L487.2 430.6M473.4 436.0L483.9 444.2M470.1 451.2L481.1 458.3M552.4 149.6L565.9 151.4M552.6 153.8L566.5 155.3M553.1 156.8L567.3 158.4M553.8 160.9L568.2 162.9M554.8 168.3L569.2 170.9M555.7 179.5L570.0 182.9M556.6 193.7L570.7 198.0M557.2 209.3L571.1 214.3M557.6 224.5L571.1 229.8M557.6 238.1L570.7 243.2M557.2 250.3L569.8 254.6M556.3 261.9L568.3 264.9M554.8 273.9L566.2 275.5M552.8 286.5L563.7 287.1M550.2 299.3L560.6 299.6M547.1 310.9L557.0 311.8M543.6 320.3L553.1 322.6M539.7 327.1L548.9 331.2M535.4 332.3L544.5 338.3M531.0 338.0L540.0 345.5M526.5 346.3L535.5 354.7M522.0 358.6L531.1 367.2M517.6 374.8L527.0 383.2M513.4 393.3L523.2 401.3M509.6 411.8L519.9 419.4M506.1 428.5L517.0 435.7M503.2 442.7L514.6 449.9M500.8 455.6L512.8 462.8M586.0 147.2L600.1 148.2M586.8 153.8L601.0 155.2M587.7 158.2L602.1 160.4M588.7 161.9L603.1 165.1M589.7 167.4L603.9 171.3M590.5 176.1L604.5 180.5M591.1 188.8L604.7 193.2M591.3 204.4L604.5 208.6M591.1 220.9L603.8 224.8M590.4 236.3L602.6 239.6M589.2 249.1L600.8 252.0M587.5 259.5L598.5 261.8M585.2 268.6L595.7 270.5M582.3 278.1L592.4 279.9M579.0 289.2L588.7 291.4M575.3 302.2L584.6 305.3M571.2 316.0L580.3 320.6M566.9 329.1L575.9 335.5M562.5 340.3L571.4 348.3M558.0 349.7L567.1 358.8M553.6 358.2L562.9 367.6M549.4 367.7L559.1 376.6M545.5 379.7L555.6 387.6M542.0 394.6L552.6 401.3M538.9 411.7L550.1 417.6M536.4 429.4L548.2 435.1M534.4 445.9L546.8 452.2M532.9 460.7L545.9 468.1M620.4 140.6L634.7 141.7M621.4 150.2L635.8 152.0M622.5 158.4L636.8 161.3M623.4 165.0L637.5 169.0M624.2 171.0L638.0 175.7M624.6 177.8L638.0 182.5M624.7 186.9L637.6 191.2M624.2 199.0L636.6 202.4M623.3 213.6L635.1 216.0M621.8 229.0L633.1 230.8M619.8 243.4L630.5 245.1M617.2 255.6L627.4 257.7M614.1 265.7L623.9 268.6M610.6 274.9L620.0 278.9M606.7 285.1L615.9 290.3M602.6 297.8L611.5 304.1M598.2 313.2L607.2 320.5M593.8 330.2L602.8 338.5M589.5 346.9L598.7 355.7M585.3 361.2L594.7 370.3M581.3 372.3L591.2 381.1M577.7 380.8L588.1 388.8M574.5 388.6L585.4 395.6M571.8 397.9L583.3 403.8M569.7 410.3L581.8 415.6M568.0 426.1L580.8 431.4M567.0 444.1L580.3 450.4M566.4 462.8L580.3 470.7M655.0 133.7L669.3 136.0M656.1 144.6L670.3 147.5M657.0 156.0L670.9 159.5M657.6 166.5L671.2 170.6M657.9 175.2L671.0 179.6M657.7 182.3L670.3 186.4M657.0 188.7L669.1 192.3M655.8 196.3L667.3 198.9M654.1 206.2L665.0 208.0M651.8 218.9L662.1 220.2M648.9 233.4L658.8 235.1M645.6 248.4L655.1 251.2M642.0 262.7L651.1 267.1M637.9 275.6L646.9 282.0M633.7 288.0L642.6 296.1M629.4 301.1L638.3 310.4M625.1 316.1L634.1 325.9M620.8 333.2L630.2 342.7M616.8 351.3L626.6 360.2M613.2 368.4L623.3 376.4M609.9 382.4L620.6 389.5M607.1 392.5L618.3 398.8M604.8 399.3L616.7 405.1M603.0 405.0L615.5 410.5M601.8 412.5L614.9 418.2M601.2 424.2L614.8 430.5M601.0 440.9L615.1 448.2M601.3 461.6L615.8 470.4M689.5 130.7L703.5 134.7M690.3 140.8L704.0 144.9M690.8 152.6L704.0 156.5M690.9 164.9L703.6 168.5M690.4 176.1L702.7 179.3M689.5 184.9L701.1 187.7M688.0 191.3L699.1 193.7M686.0 196.5L696.5 198.5M683.4 202.3L693.4 204.3M680.3 211.0L690.0 213.3M676.9 223.6L686.1 226.7M673.0 239.8L682.1 244.4M668.9 258.2L677.8 264.7M664.7 276.9L673.6 285.4M660.4 294.5L669.4 304.6M656.2 310.5L665.4 321.6M652.2 325.6L661.7 336.5M648.4 340.6L658.4 350.6M645.1 356.1L655.5 364.5M642.1 371.8L653.2 378.4M639.7 386.3L651.3 391.7M637.8 398.4L650.1 403.0M636.5 407.2L649.3 412.0M635.7 413.6L649.1 419.1M635.4 419.7L649.3 426.3M635.6 428.3L650.0 436.2M636.1 441.8L650.9 450.7M637.0 460.9L652.0 470.5M723.4 132.4L736.8 137.7M723.7 141.4L736.6 146.4M723.5 151.1L735.9 155.3M722.8 161.8L734.7 164.9M721.6 172.8L732.9 174.9M719.8 182.8L730.6 184.3M717.5 190.9L727.7 192.3M714.7 196.9L724.5 198.9M711.4 202.3L720.8 205.2M707.8 209.0L716.9 213.2M703.9 219.3L712.8 225.1M699.7 234.6L708.6 241.9M695.5 254.4L704.4 263.2M691.3 277.1L700.4 287.1M687.3 299.9L696.7 310.8M683.5 320.6L693.3 331.7M680.0 337.8L690.3 348.3M677.0 351.7L687.8 361.0M674.4 363.7L685.8 371.2M672.4 375.1L684.4 380.8M670.9 386.8L683.6 391.2M670.0 398.6L683.2 402.6M669.6 409.9L683.3 414.3M669.7 419.9L683.9 425.7M670.2 428.8L684.8 436.3M671.0 438.0L685.9 446.9M672.1 449.4L687.2 459.2M673.3 464.7L688.5 474.5M756.3 135.8L768.8 141.2M755.8 145.3L767.9 150.3M754.9 153.1L766.4 157.1M753.4 160.5L764.3 163.2M751.3 168.4L761.7 170.0M748.8 177.2L758.7 178.3M745.7 186.4L755.2 187.7M742.3 195.2L751.4 197.7M738.5 203.5L747.5 207.8M734.5 212.2L743.4 218.6M730.4 222.7L739.2 231.1M726.2 236.8L735.2 246.6M722.2 255.4L731.4 266.1M718.3 278.0L728.0 288.9M714.8 302.6L724.9 313.2M711.7 326.4L722.3 336.2M709.0 346.6L720.2 355.4M706.8 361.9L718.6 369.6M705.2 372.7L717.6 379.2M704.1 380.9L717.1 386.2M703.6 388.6L717.1 393.3M703.6 397.9L717.6 402.5M704.0 409.4L718.5 414.6M704.8 422.4L719.6 428.7M705.8 435.7L720.9 443.3M707.1 448.4L722.2 457.1M708.4 460.5L723.5 469.7M709.7 473.0L724.7 481.6M787.8 136.5L799.5 141.3M786.6 148.5L797.7 152.7M784.8 156.6L795.4 160.0M782.5 162.1L792.6 164.6M779.7 166.8L789.3 168.8M776.5 172.7L785.7 174.7M772.8 181.0L781.9 183.6M769.0 191.7L777.8 195.7M765.0 204.0L773.8 210.0M760.9 217.2L769.8 225.4M756.8 231.0L766.0 241.1M753.0 245.9L762.4 257.2M749.4 262.8L759.3 274.4M746.2 282.4L756.5 293.3M743.4 304.4L754.3 314.1M741.1 327.3L752.6 335.5M739.3 348.7L751.4 355.6M738.1 366.5L750.8 372.4M737.4 379.5L750.7 384.9M737.3 388.1L751.1 393.6M737.6 394.6L751.9 400.3M738.3 401.4L753.0 407.5M739.4 410.9L754.3 417.4M740.6 423.6L755.7 430.5M742.0 438.8L757.1 446.0M743.4 454.5L758.4 461.8M744.7 468.9L759.5 475.8M745.7 481.0L760.2 487.0M818.0 132.9L828.7 136.9M815.9 147.3L826.1 150.5M813.3 157.9L823.1 160.7M810.3 164.6L819.7 167.4M806.9 169.0L816.0 172.1M803.2 173.2L812.1 177.1M799.3 179.9L808.1 184.8M795.3 190.3L804.1 196.6M791.3 204.6L800.3 212.4M787.4 221.6L796.7 230.9M783.8 239.5L793.4 250.0M780.4 257.1L790.6 268.2M777.5 273.9L788.2 284.9M775.1 290.6L786.4 300.6M773.2 307.9L785.1 316.4M771.9 326.5L784.4 333.4M771.1 345.8L784.2 351.4M770.8 364.4L784.4 369.3M771.0 380.6L785.1 385.7M771.6 393.3L786.2 399.1M772.6 402.7L787.5 409.3M773.9 410.1L788.9 417.4M775.3 417.8L790.4 425.4M776.8 427.7L791.8 434.8M778.2 440.4L793.1 446.7M779.4 455.2L794.0 460.2M780.3 470.0L794.6 473.7M780.9 482.8L794.7 485.2M846.7 127.3L856.6 130.8M843.9 142.0L853.3 144.8M840.7 155.0L849.8 157.9M837.1 165.4L846.0 168.9M833.3 173.0L842.1 177.7M829.4 179.1L838.2 185.3M825.4 185.8L834.4 193.3M821.6 195.1L830.7 203.8M817.9 208.5L827.4 217.9M814.5 225.7L824.5 235.5M811.5 245.3L822.0 255.1M809.0 265.1L820.0 274.6M806.9 283.3L818.6 292.3M805.4 299.2L817.7 307.4M804.5 313.4L817.4 320.6M804.1 327.5L817.5 333.6M804.2 342.6L818.2 348.1M804.8 359.5L819.1 364.7M805.7 377.2L820.4 382.7M807.0 394.1L821.9 400.4M808.4 408.7L823.4 415.8M809.9 420.0L825.0 427.6M811.4 428.5L826.3 436.0M812.8 435.9L827.5 442.3M813.9 443.8L828.3 448.5M814.7 453.3L828.6 455.9M815.1 464.5L828.5 465.1M815.0 475.9L827.9 475.3M874.1 123.4L883.3 127.3M870.7 136.3L879.7 140.0M867.1 150.0L875.9 154.0M863.3 163.7L872.0 168.7M859.4 176.3L868.2 182.7M855.5 187.3L864.6 195.3M851.8 196.9L861.2 206.3M848.4 206.6L858.2 216.8M845.3 217.9L855.6 228.1M842.7 232.1L853.5 241.6M840.5 249.2L851.9 257.7M838.9 268.0L850.9 275.4M837.8 286.7L850.4 293.2M837.2 303.5L850.4 309.5M837.2 317.9L851.0 323.7M837.7 330.5L851.9 336.4M838.6 342.9L853.1 349.1M839.8 357.1L854.6 363.5M841.2 373.6L856.2 380.3M842.8 392.0L857.8 398.8M844.4 410.2L859.3 417.0M845.8 426.0L860.6 432.5M847.1 437.6L861.6 443.3M848.1 444.8L862.2 449.1M848.7 449.0L862.4 451.5M848.9 452.4L862.0 452.9M848.5 457.0L861.1 455.8M847.6 464.0L859.6 461.9M900.6 123.2L909.4 128.3M896.9 134.5L905.6 140.0M893.0 147.4L901.9 153.6M889.2 162.3L898.2 169.4M885.5 178.5L894.8 186.7M882.1 194.4L891.7 203.6M878.9 208.7L888.9 218.6M876.1 220.9L886.7 230.9M873.9 231.5L885.0 241.0M872.1 242.0L883.8 250.3M870.9 253.9L883.2 260.8M870.2 268.2L883.2 273.7M870.0 284.4L883.6 289.0M870.4 301.4L884.4 305.9M871.2 317.8L885.6 322.8M872.3 332.6L887.1 338.6M873.8 346.2L888.7 353.2M875.4 359.6L890.4 367.4M877.0 374.3L892.0 382.1M878.6 390.8L893.5 398.1M880.1 408.6L894.7 414.7M881.3 425.7L895.5 430.3M882.1 439.6L895.9 442.6M882.5 448.6L895.8 450.0M882.4 452.4L895.1 452.4M881.7 452.5L893.9 451.4M880.5 451.9L892.2 450.1M878.8 453.6L889.9 451.8M926.5 125.7L935.2 132.2M922.7 137.9L931.6 145.6M919.0 150.7L928.1 159.4M915.5 165.3L924.9 174.6M912.3 182.0L922.1 191.6M909.4 199.9L919.8 209.4M907.0 217.3L917.9 226.4M905.1 232.3L916.6 240.8M903.8 244.1L915.9 251.6M902.9 252.9L915.7 259.4M902.7 260.6L916.0 266.0M902.9 269.4L916.7 273.8M903.6 280.9L917.9 284.9M904.7 295.7L919.3 299.8M906.1 313.0L921.0 317.9M907.7 331.2L922.7 337.3M909.4 348.7L924.5 356.0M911.1 364.6L926.0 372.7M912.7 379.1L927.4 387.1M914.1 393.1L928.4 400.0M915.1 407.2L929.1 412.2M915.7 421.3L929.2 424.0M915.9 434.1L928.8 434.6M915.5 444.0L927.9 442.8M914.6 449.6L926.4 447.6M913.1 450.9L924.4 449.0M911.1 449.7L921.9 448.4M908.6 448.8L919.0 448.8M952.3 127.9L961.2 135.9M948.7 144.2L958.0 153.6M945.5 159.3L955.1 169.8M942.5 174.0L952.7 184.9M940.0 189.4L950.7 199.7M938.0 205.7L949.3 214.9M936.5 222.4L948.4 230.1M935.5 237.9L948.0 244.2M935.1 250.9L948.2 256.0M935.2 260.5L948.9 264.8M935.8 267.2L949.9 271.2M936.9 273.0L951.4 277.0M938.2 280.4L953.0 284.8M939.8 291.5L954.8 296.5M941.6 307.2L956.6 312.9M943.4 326.5L958.3 332.9M945.1 347.3L959.8 354.3M946.6 367.0L961.1 374.1M947.8 383.7L961.9 390.4M948.7 397.1L962.3 402.4M949.1 407.7L962.2 411.0M949.0 416.7L961.5 417.7M948.3 425.2L960.3 424.1M947.1 433.2L958.6 430.8M945.4 440.0L956.3 437.4M943.1 444.8L953.6 443.1M940.4 447.5L950.5 447.6M937.3 449.2L947.1 451.4M978.4 128.7L987.9 138.1M975.4 149.7L985.4 160.0M972.8 168.9L983.3 179.9M970.7 185.7L981.7 196.6M969.0 200.3L980.7 210.1M967.9 213.6L980.2 221.8M967.4 226.4L980.2 232.6M967.4 239.1L980.8 243.5M967.8 251.2L981.8 254.3M968.8 261.7L983.1 264.4M970.1 270.2L984.8 273.2M971.7 277.1L986.6 281.0M973.5 283.8L988.5 288.8M975.3 292.5L990.3 298.5M977.1 305.1L992.0 311.7M978.8 322.1L993.4 328.7M980.2 342.4L994.4 348.6M981.3 363.6L995.1 369.0M981.9 382.7L995.2 387.0M982.1 397.6L994.8 400.5M981.7 407.5L993.9 408.9M980.8 413.5L992.4 413.5M979.3 417.7L990.4 416.6M977.3 422.2L987.9 420.6M974.8 428.1L985.0 426.9M971.9 435.5L981.8 435.5M968.7 443.3L978.3 445.2M965.2 450.7L974.8 454.9M1005.4 129.8L1015.6 140.1M1003.1 152.9L1013.9 163.3M1001.4 175.4L1012.8 185.5M1000.1 195.1L1012.1 204.5M999.4 210.7L1012.1 218.8M999.3 222.4L1012.5 228.9M999.7 231.5L1013.4 236.2M1000.5 239.7L1014.7 243.0M1001.8 248.5L1016.3 250.8M1003.3 258.2L1018.1 260.4M1005.1 268.4L1020.1 271.2M1007.0 278.5L1022.0 282.4M1008.9 287.9L1023.8 293.3M1010.7 297.4L1025.4 303.8M1012.3 308.0L1026.7 314.8M1013.6 321.2L1027.5 327.4M1014.4 337.4L1027.9 342.4M1014.8 355.8L1027.8 359.2M1014.7 374.4L1027.1 376.3M1014.1 390.6L1025.9 391.2M1012.9 402.6L1024.2 402.5M1011.1 409.8L1021.9 409.5M1008.9 413.5L1019.2 413.5M1006.2 416.3L1016.2 417.0M1003.2 420.6L1012.9 422.2M999.8 428.1L1009.4 430.9M996.3 438.6L1005.8 442.7M992.8 450.8L1002.4 456.3M1033.5 133.6L1044.7 144.3M1032.2 155.2L1043.9 165.0M1031.3 177.5L1043.7 186.1M1031.0 198.5L1044.0 205.6M1031.3 215.7L1044.8 221.5M1032.0 228.3L1046.0 232.8M1033.2 236.4L1047.6 240.0M1034.7 242.0L1049.4 245.0M1036.5 247.5L1051.4 250.2M1038.4 254.7L1053.4 257.6M1040.4 264.5L1055.3 267.9M1042.3 276.5L1057.1 280.7M1044.1 289.2L1058.6 294.3M1045.5 301.5L1059.6 307.1M1046.6 312.7L1060.3 318.3M1047.3 323.4L1060.4 328.3M1047.4 334.7L1060.0 338.2M1047.1 347.6L1059.1 349.4M1046.1 362.1L1057.6 362.5M1044.6 377.3L1055.6 376.8M1042.6 391.3L1053.1 390.8M1040.2 402.6L1050.3 403.0M1037.3 410.6L1047.1 412.4M1034.2 416.1L1043.7 419.5M1030.8 421.1L1040.3 425.9M1027.3 427.8L1036.8 433.6M1023.8 437.7L1033.5 444.0M1020.4 450.6L1030.4 457.0M1063.0 140.9L1075.2 150.9M1062.6 158.7L1075.4 167.3M1062.7 177.4L1076.0 184.2M1063.4 196.2L1077.2 201.3M1064.4 213.6L1078.7 217.3M1065.9 228.0L1080.5 231.0M1067.7 238.3L1082.5 241.2M1069.6 245.1L1084.6 248.3M1071.7 250.0L1086.6 253.7M1073.7 255.3L1088.5 259.4M1075.6 263.0L1090.1 267.4M1077.2 273.8L1091.4 278.2M1078.5 287.0L1092.3 291.3M1079.4 301.0L1092.7 304.9M1079.8 313.9L1092.6 317.3M1079.7 324.5L1091.9 327.2M1079.0 333.3L1090.7 335.1M1077.8 341.5L1088.9 342.5M1076.1 351.1L1086.7 351.4M1073.8 362.9L1084.1 363.2M1071.2 377.1L1081.1 377.9M1068.2 392.1L1077.8 394.3M1064.9 406.2L1074.4 410.2M1061.6 418.1L1071.0 423.9M1058.1 427.5L1067.7 434.7M1054.8 435.4L1064.6 443.3M1051.6 443.7L1061.7 451.3M1048.7 453.7L1059.3 460.4M1094.0 148.8L1107.1 156.9M1094.5 163.5L1108.1 170.2M1095.5 177.6L1109.6 182.8M1096.9 192.1L1111.3 195.9M1098.6 207.2L1113.3 210.0M1100.6 222.0L1115.4 224.4M1102.6 235.3L1117.6 238.1M1104.7 246.0L1119.6 249.6M1106.8 254.0L1121.4 258.4M1108.6 260.2L1122.9 265.1M1110.1 266.2L1124.0 271.2M1111.2 273.9L1124.7 278.2M1111.9 284.0L1124.8 287.2M1112.0 296.1L1124.4 298.1M1111.6 308.7L1123.5 309.7M1110.7 320.2L1122.0 320.6M1109.2 329.5L1120.0 329.9M1107.2 337.0L1117.5 337.8M1104.8 344.3L1114.7 345.8M1101.9 353.5L1111.6 355.9M1098.8 366.1L1108.4 369.7M1095.5 382.3L1105.0 387.2M1092.2 400.6L1101.7 406.9M1088.8 418.8L1098.6 426.2M1085.7 434.4L1095.7 442.6M1082.7 446.3L1093.1 454.6M1080.1 454.9L1091.0 462.5M1077.9 461.8L1089.3 468.2M1126.3 152.7L1140.2 158.3M1127.6 166.6L1141.9 171.3M1129.3 178.3L1143.9 182.4M1131.2 189.4L1146.1 192.8M1133.4 201.2L1148.3 204.3M1135.5 214.5L1150.4 217.6M1137.7 228.9L1152.4 232.4M1139.6 243.2L1154.1 247.3M1141.3 255.7L1155.4 260.3M1142.7 265.3L1156.3 270.1M1143.6 272.2L1156.7 276.6M1144.0 277.5L1156.6 281.0M1143.8 283.0L1155.9 285.1M1143.2 290.1L1154.7 290.8M1142.0 299.3L1152.9 298.9M1140.2 310.0L1150.7 309.3M1138.0 320.9L1148.1 320.8M1135.4 331.2L1145.1 332.5M1132.4 340.8L1142.0 344.0M1129.3 350.8L1138.7 356.0M1126.0 362.9L1135.5 369.8M1122.7 378.4L1132.3 386.4M1119.5 397.3L1129.4 405.7M1116.5 418.0L1126.7 426.4M1113.8 437.8L1124.5 445.8M1111.6 454.2L1122.8 461.6M1109.7 465.6L1121.5 472.2M1108.4 472.4L1120.8 478.1M1159.8 150.1L1174.3 153.4M1161.7 164.8L1176.5 167.8M1163.8 177.4L1178.7 180.6M1166.1 188.2L1181.0 191.9M1168.3 198.6L1183.1 202.8M1170.4 210.1L1184.9 214.7M1172.3 223.5L1186.5 228.2M1173.8 238.5L1187.6 243.1M1174.9 253.5L1188.3 257.7M1175.6 266.4L1188.4 270.1M1175.8 275.8L1188.0 278.7M1175.3 281.3L1187.0 283.3M1174.4 284.2L1185.5 285.1M1172.9 286.6L1183.5 286.6M1170.9 290.9L1181.1 290.4M1168.5 298.5L1178.4 298.3M1165.8 309.5L1175.4 310.4M1162.7 323.0L1172.2 325.9M1159.5 337.5L1169.0 342.8M1156.3 352.2L1165.8 359.8M1153.1 366.9L1162.9 376.2M1150.1 382.5L1160.2 392.6M1147.4 399.7L1157.8 409.6M1145.0 418.7L1156.0 427.5M1143.1 438.2L1154.6 445.6M1141.6 456.4L1153.8 462.4M1140.7 470.9L1153.5 476.0M1140.4 480.6L1153.7 485.4M1194.1 142.8L1208.9 144.9M1196.3 157.6L1211.2 159.9M1198.6 172.4L1213.4 175.5M1200.9 186.1L1215.5 190.3M1202.9 198.5L1217.2 203.7M1204.6 210.3L1218.6 216.0M1206.0 222.3L1219.5 227.9M1206.9 235.4L1219.9 240.2M1207.3 249.2L1219.8 252.8M1207.2 262.6L1219.1 264.8M1206.5 273.6L1217.8 274.7M1205.3 281.0L1216.1 281.3M1203.5 284.6L1213.9 284.5M1201.3 285.8L1211.3 285.9M1198.8 287.1L1208.4 287.9M1195.9 291.5L1205.4 293.3M1192.8 300.7L1202.2 304.1M1189.6 315.1L1199.1 320.4M1186.5 333.5L1196.1 340.8M1183.5 353.5L1193.4 362.6M1180.7 373.2L1191.0 383.4M1178.2 391.2L1189.0 401.8M1176.2 407.7L1187.5 417.7M1174.6 423.4L1186.5 432.0M1173.6 439.2L1186.1 446.1M1173.1 455.2L1186.2 460.5M1173.1 470.3L1186.9 474.8M1173.7 483.3L1188.0 487.8M1228.7 135.4L1243.5 137.6M1231.0 148.5L1245.7 151.2M1233.2 164.3L1247.7 167.8M1235.1 181.2L1249.2 185.8M1236.7 197.5L1250.4 203.1M1237.9 212.0L1251.1 218.0M1238.5 224.5L1251.2 230.1M1238.7 235.5L1250.8 240.1M1238.3 246.0L1249.8 249.0M1237.3 256.5L1248.3 257.7M1235.8 266.4L1246.3 266.4M1233.9 275.0L1243.9 274.3M1231.5 281.2L1241.2 280.9M1228.8 285.1L1238.3 286.0M1225.8 287.9L1235.2 290.5M1222.7 291.9L1232.2 296.4M1219.6 299.5L1229.2 305.9M1216.6 312.6L1226.4 320.5M1213.8 331.2L1223.9 340.2M1211.3 353.5L1221.8 363.1M1209.1 376.8L1220.2 386.7M1207.4 398.3L1219.1 407.9M1206.3 416.4L1218.5 425.3M1205.6 431.0L1218.5 438.9M1205.6 443.5L1219.0 450.2M1206.0 455.5L1220.1 461.2M1207.0 468.4L1221.5 473.7M1208.4 482.3L1223.4 487.9M1263.2 131.7L1277.8 134.8M1265.3 142.1L1279.6 146.0M1267.1 156.6L1281.0 161.2M1268.5 174.3L1281.9 179.4M1269.4 193.3L1282.3 198.6M1269.8 211.1L1282.1 216.3M1269.7 225.9L1281.4 230.5M1269.0 237.0L1280.2 240.6M1267.8 245.2L1278.4 247.5M1266.1 252.0L1276.3 253.0M1263.9 258.8L1273.7 258.9M1261.4 266.3L1270.9 266.4M1258.6 274.5L1268.0 275.3M1255.6 282.6L1265.0 285.1M1252.5 290.2L1262.0 294.9M1249.5 297.7L1259.2 304.7M1246.7 306.5L1256.7 315.2M1244.1 318.1L1254.5 328.0M1241.9 334.0L1252.7 344.0M1240.1 354.1L1251.5 363.7M1238.8 377.0L1250.8 385.7M1238.0 400.0L1250.6 407.9M1237.8 420.6L1251.0 427.8M1238.1 437.1L1251.9 444.0M1238.9 449.8L1253.3 456.6M1240.3 460.3L1255.1 467.1M1242.0 470.9L1257.2 478.0M1244.0 483.4L1259.5 491.0M1297.2 131.8L1311.2 135.9M1298.8 141.0L1312.4 146.0M1300.0 153.1L1313.0 158.6M1300.7 168.6L1313.1 174.0M1300.8 186.8L1312.7 191.5M1300.4 205.5L1311.7 209.5M1299.4 222.5L1310.2 225.5M1297.9 235.7L1308.3 238.0M1296.0 244.6L1305.9 246.5M1293.6 250.4L1303.3 251.9M1291.0 255.0L1300.4 256.7M1288.1 260.7L1297.5 262.9M1285.2 268.8L1294.6 272.1M1282.2 279.6L1291.8 284.4M1279.4 292.0L1289.2 298.6M1276.7 304.8L1286.9 313.2M1274.4 317.2L1285.1 326.9M1272.5 329.5L1283.7 339.7M1271.1 342.8L1282.9 352.7M1270.2 358.3L1282.6 367.3M1269.8 376.7L1282.8 384.4M1270.0 397.3L1283.6 403.9M1270.7 418.4L1284.9 424.5M1271.9 438.0L1286.6 444.2M1273.6 454.4L1288.6 461.5M1275.6 467.7L1291.0 475.8M1277.9 479.1L1293.4 488.1M1280.3 490.5L1296.0 500.1M1330.2 132.7L1343.4 137.3M1331.2 143.1L1343.8 148.6M1331.6 154.1L1343.7 159.8M1331.4 166.6L1342.9 171.8M1330.7 181.1L1341.7 185.3M1329.5 197.3L1340.0 200.3M1327.8 214.0L1337.8 216.0M1325.6 229.1L1335.4 230.7M1323.2 241.2L1332.6 243.1M1320.4 249.8L1329.8 252.5M1317.5 256.0L1326.9 259.9M1314.6 261.8L1324.1 266.9M1311.8 269.3L1321.5 275.7M1309.1 280.1L1319.2 287.5M1306.8 294.2L1317.2 302.4M1304.8 310.2L1315.7 319.0M1303.2 326.3L1314.8 335.4M1302.2 340.9L1314.3 350.0M1301.7 353.9L1314.4 362.5M1301.7 366.1L1315.1 373.9M1302.3 379.2L1316.2 386.2M1303.4 394.9L1317.9 401.3M1305.0 413.6L1319.9 419.8M1306.9 434.1L1322.2 440.9M1309.2 454.8L1324.6 462.6M1311.6 473.6L1327.2 482.7M1314.2 489.5L1329.8 499.6M1316.7 502.7L1332.2 513.2M1362.0 131.5L1374.3 136.0M1362.1 144.5L1373.8 149.4M1361.7 156.4L1372.8 161.2M1360.7 167.4L1371.4 171.7M1359.2 178.3L1369.4 181.9M1357.3 190.4L1367.1 193.2M1355.0 204.2L1364.6 206.4M1352.4 219.2L1361.8 221.4M1349.7 234.2L1359.0 237.2M1346.8 247.8L1356.2 252.3M1344.0 259.2L1353.6 265.3M1341.3 268.6L1351.2 276.4M1338.9 277.4L1349.2 286.4M1336.8 287.5L1347.6 296.8M1335.2 299.9L1346.5 309.1M1334.0 315.0L1345.9 323.5M1333.3 331.4L1345.8 339.2M1333.2 347.5L1346.4 354.6M1333.7 361.7L1347.4 368.3M1334.7 373.8L1348.9 380.2M1336.1 384.7L1350.9 391.3M1338.0 396.7L1353.1 403.6M1340.2 411.6L1355.6 419.1M1342.7 430.5L1358.2 438.6M1345.3 452.6L1360.9 461.4M1347.9 475.6L1363.5 485.1M1350.5 496.9L1365.8 506.7M1352.8 514.3L1367.9 523.8M1392.3 128.1L1403.7 132.1M1391.6 142.2L1402.4 145.9M1390.4 155.6L1400.7 159.1M1388.7 167.3L1398.6 170.6M1386.6 177.4L1396.2 180.6M1384.1 187.0L1393.6 190.3M1381.5 197.9L1390.8 201.4M1378.7 211.2L1388.1 215.4M1376.0 227.1L1385.4 232.3M1373.3 244.5L1383.0 251.1M1370.8 261.7L1380.9 269.8M1368.7 277.0L1379.2 286.4M1366.9 289.8L1378.0 299.9M1365.6 300.6L1377.3 310.6M1364.8 310.7L1377.1 319.9M1364.6 321.8L1377.5 329.6M1364.9 334.7L1378.4 341.0M1365.8 348.9L1379.8 354.2M1367.1 363.5L1381.6 368.5M1368.9 377.3L1383.9 382.7M1371.1 389.9L1386.4 396.4M1373.5 402.1L1389.0 409.9M1376.1 415.5L1391.7 424.5M1378.8 431.9L1394.4 441.6M1381.5 452.1L1396.9 462.0M1384.0 475.1L1399.2 484.6M1386.2 498.6L1401.1 507.1M1388.1 519.4L1402.5 526.4"/></g></svg>
<div class="a" style="left:71px;top:63px;font-size:87px;line-height:94.6px;font-weight:bold;color:#004B97;letter-spacing:0.5px;-webkit-text-stroke:2.4px #004B97;text-shadow:1.5px 0 0 #004B97,-1.5px 0 0 #004B97,3px 0 0 #004B97,-3px 0 0 #004B97;transform:scaleX(1.08);transform-origin:0 0">World Economic Outlook<br>Growth Projections</div>
<div class="a" style="left:67px;top:376.5px;font-size:24px;line-height:40px;font-weight:bold;color:#004B97;letter-spacing:0.62px;-webkit-text-stroke:0.4px #004B97">(Real GDP, annual percent change)</div>
<div class="a" style="left:1077px;top:299px;font-size:34px;line-height:40px;color:#004B97;letter-spacing:-0.5px;-webkit-text-stroke:1px #004B97">PROJECTIONS</div>
<div class="a" style="left:863px;top:377.5px;font-size:34px;line-height:40px;font-weight:bold;letter-spacing:2.4px;-webkit-text-stroke:0.8px #000">2024</div>
<div class="a" style="left:1060px;top:377.5px;font-size:34px;line-height:40px;font-weight:bold;letter-spacing:2.4px;-webkit-text-stroke:0.8px #000">2025</div>
<div class="a" style="left:1248px;top:377.5px;font-size:34px;line-height:40px;font-weight:bold;letter-spacing:2.4px;-webkit-text-stroke:0.8px #000">2026</div>
<div class="band" style="top:444.80px;height:59.60px;background:#EE7D00"></div>
<div class="pb" style="top:444.80px;height:59.60px;background:#D67616"></div>
<div class="row orange" style="top:445.62px"><span class="lab" style="letter-spacing:0.791px">World Output</span><span class="n c1">3.3</span><span class="n c2">3.2</span><span class="n c3">3.1</span></div>
<div class="band" style="top:502.81px;height:59.44px;background:#004B97"></div>
<div class="row blue" style="top:503.47px"><span class="lab" style="letter-spacing:-0.112px">Advanced Economies</span><span class="n c1">1.8</span><span class="n c2">1.6</span><span class="n c3">1.6</span></div>
<div class="band" style="top:560.67px;height:59.44px;background:#CBDBEA"></div>
<div class="pb" style="top:560.67px;height:59.44px;background:#B6CAE3"></div>
<div class="row l1" style="top:561.33px"><span class="lab" style="letter-spacing:0.425px">United States</span><span class="n c1">2.8</span><span class="n c2">2.0</span><span class="n c3">2.1</span></div>
<div class="row l1" style="top:619.18px"><span class="lab" style="letter-spacing:0.225px">Euro Area</span><span class="n c1">0.9</span><span class="n c2">1.2</span><span class="n c3">1.1</span></div>
<div class="band" style="top:676.38px;height:59.44px;background:#CBDBEA"></div>
<div class="pb" style="top:676.38px;height:59.44px;background:#B6CAE3"></div>
<div class="row l2" style="top:677.04px"><span class="lab" style="letter-spacing:0.6px">Germany</span><span class="n c1">-0.5</span><span class="n c2">0.2</span><span class="n c3">0.9</span></div>
<div class="row l2" style="top:734.89px"><span class="lab" style="letter-spacing:-0.2px">France</span><span class="n c1">1.1</span><span class="n c2">0.7</span><span class="n c3">0.9</span></div>
<div class="band" style="top:792.09px;height:59.44px;background:#CBDBEA"></div>
<div class="pb" style="top:792.09px;height:59.44px;background:#B6CAE3"></div>
<div class="row l2" style="top:792.75px"><span class="lab" style="letter-spacing:0.775px">Italy</span><span class="n c1">0.7</span><span class="n c2">0.5</span><span class="n c3">0.8</span></div>
<div class="row l2" style="top:850.60px"><span class="lab" style="letter-spacing:0.525px">Spain</span><span class="n c1">3.5</span><span class="n c2">2.9</span><span class="n c3">2.0</span></div>
<div class="band" style="top:907.80px;height:59.44px;background:#CBDBEA"></div>
<div class="pb" style="top:907.80px;height:59.44px;background:#B6CAE3"></div>
<div class="row l1" style="top:908.46px"><span class="lab" style="letter-spacing:1.0px">Japan</span><span class="n c1">0.1</span><span class="n c2">1.1</span><span class="n c3">0.6</span></div>
<div class="row l1" style="top:966.31px"><span class="lab" style="letter-spacing:1.377px">United Kingdom</span><span class="n c1">1.1</span><span class="n c2">1.3</span><span class="n c3">1.3</span></div>
<div class="band" style="top:1023.51px;height:59.44px;background:#CBDBEA"></div>
<div class="pb" style="top:1023.51px;height:59.44px;background:#B6CAE3"></div>
<div class="row l1" style="top:1024.17px"><span class="lab" style="letter-spacing:0.2px">Canada</span><span class="n c1">1.6</span><span class="n c2">1.2</span><span class="n c3">1.5</span></div>
<div class="row l1" style="top:1082.03px"><span class="lab" style="letter-spacing:0.67px">Other Advanced Economies</span><span class="n c1">2.3</span><span class="n c2">1.8</span><span class="n c3">2.0</span></div>
<div class="band" style="top:1139.22px;height:59.44px;background:#004B97"></div>
<div class="row blue" style="top:1139.88px"><span class="lab" style="letter-spacing:0.238px">Emerging Market and Developing Economies</span><span class="n c1">4.3</span><span class="n c2">4.2</span><span class="n c3">4.0</span></div>
<div class="band" style="top:1197.08px;height:59.44px;background:#CBDBEA"></div>
<div class="pb" style="top:1197.08px;height:59.44px;background:#B6CAE3"></div>
<div class="row l1" style="top:1197.74px"><span class="lab" style="letter-spacing:0.685px">Emerging and Developing Asia</span><span class="n c1">5.3</span><span class="n c2">5.2</span><span class="n c3">4.7</span></div>
<div class="row l2" style="top:1255.59px"><span class="lab" style="letter-spacing:0.375px">China</span><span class="n c1">5.0</span><span class="n c2">4.8</span><span class="n c3">4.2</span></div>
<div class="band" style="top:1312.78px;height:59.44px;background:#CBDBEA"></div>
<div class="pb" style="top:1312.78px;height:59.44px;background:#B6CAE3"></div>
<div class="row l2" style="top:1313.44px"><span class="lab" style="letter-spacing:1.0px">India</span><span class="n c1">6.5</span><span class="n c2">6.6</span><span class="n c3">6.2</span></div>
<div class="row l1" style="top:1371.30px"><span class="lab" style="letter-spacing:0.752px">Emerging and Developing Europe</span><span class="n c1">3.5</span><span class="n c2">1.8</span><span class="n c3">2.2</span></div>
<div class="band" style="top:1428.49px;height:59.44px;background:#CBDBEA"></div>
<div class="pb" style="top:1428.49px;height:59.44px;background:#B6CAE3"></div>
<div class="row l2" style="top:1429.15px"><span class="lab" style="letter-spacing:-1.46px">Russia</span><span class="n c1">4.3</span><span class="n c2">0.6</span><span class="n c3">1.0</span></div>
<div class="row l1" style="top:1487.01px"><span class="lab" style="letter-spacing:0.49px">Latin America and the Caribbean</span><span class="n c1">2.4</span><span class="n c2">2.4</span><span class="n c3">2.3</span></div>
<div class="band" style="top:1544.20px;height:59.44px;background:#CBDBEA"></div>
<div class="pb" style="top:1544.20px;height:59.44px;background:#B6CAE3"></div>
<div class="row l2" style="top:1544.87px"><span class="lab" style="letter-spacing:0.36px">Brazil</span><span class="n c1">3.4</span><span class="n c2">2.4</span><span class="n c3">1.9</span></div>
<div class="row l2" style="top:1602.72px"><span class="lab" style="letter-spacing:1.2px">Mexico</span><span class="n c1">1.4</span><span class="n c2">1.0</span><span class="n c3">1.5</span></div>
<div class="band" style="top:1659.91px;height:59.44px;background:#CBDBEA"></div>
<div class="pb" style="top:1659.91px;height:59.44px;background:#B6CAE3"></div>
<div class="row l1" style="top:1660.58px"><span class="lab" style="letter-spacing:0.319px">Middle East and Central Asia</span><span class="n c1">2.6</span><span class="n c2">3.5</span><span class="n c3">3.8</span></div>
<div class="row l2" style="top:1718.43px"><span class="lab" style="letter-spacing:0.291px">Saudi Arabia</span><span class="n c1">2.0</span><span class="n c2">4.0</span><span class="n c3">4.0</span></div>
<div class="band" style="top:1775.62px;height:59.44px;background:#CBDBEA"></div>
<div class="pb" style="top:1775.62px;height:59.44px;background:#B6CAE3"></div>
<div class="row l1" style="top:1776.29px"><span class="lab" style="letter-spacing:-0.059px">Sub-Saharan Africa</span><span class="n c1">4.1</span><span class="n c2">4.1</span><span class="n c3">4.4</span></div>
<div class="row l2" style="top:1834.14px"><span class="lab" style="letter-spacing:1.033px">Nigeria</span><span class="n c1">4.1</span><span class="n c2">3.9</span><span class="n c3">4.2</span></div>
<div class="band" style="top:1891.34px;height:59.44px;background:#CBDBEA"></div>
<div class="pb" style="top:1891.34px;height:59.44px;background:#B6CAE3"></div>
<div class="row l2" style="top:1892.00px"><span class="lab" style="letter-spacing:0.336px">South Africa</span><span class="n c1">0.5</span><span class="n c2">1.1</span><span class="n c3">1.2</span></div>
<div class="row memo" style="top:1949.85px"><span class="lab" style="letter-spacing:0.833px">Memorandum</span><span class="n c1"></span><span class="n c2"></span><span class="n c3"></span></div>
<div class="band" style="top:2007.04px;height:59.44px;background:#CBDBEA"></div>
<div class="pb" style="top:2007.04px;height:59.44px;background:#B6CAE3"></div>
<div class="row l1" style="top:2007.71px"><span class="lab" style="letter-spacing:0.643px">Emerging Market and Middle-Income Economies</span><span class="n c1">4.3</span><span class="n c2">4.1</span><span class="n c3">3.9</span></div>
<div class="row l1" style="top:2065.56px"><span class="lab" style="letter-spacing:0.623px">Low-Income Developing Countries</span><span class="n c1">4.2</span><span class="n c2">4.4</span><span class="n c3">5.0</span></div>
<div class="a" style="left:68.5px;top:2259px;font-size:26px;line-height:36px;color:#1F5BA4;letter-spacing:-0.37px">Source: IMF, <i>World Economic Outlook</i>, October 2025</div>
<div class="a" style="left:68.5px;top:2320.8px;font-size:26px;line-height:28.6px;color:#1F5BA4;letter-spacing:-0.27px">Note: For India, data and forecasts are presented on a fiscal year basis, with FY 2024/25 (starting in April 2024)</div>
<div class="a" style="left:68.5px;top:2349.4px;font-size:26px;line-height:28.6px;color:#1F5BA4;letter-spacing:-0.12px">shown in the 2024 column. India's growth projections are 7.0 percent in 2025 and 6.1 percent in 2026 based</div>
<div class="a" style="left:68.5px;top:2378.0px;font-size:26px;line-height:28.6px;color:#1F5BA4;letter-spacing:-0.3px">on calendar year.</div>
<div class="a" style="left:0;top:2459px;width:1410px;height:101px;background:#004B97"></div>
<div class="a" style="left:67.5px;top:2493.5px;font-size:35px;line-height:40px;font-weight:bold;color:#fff;letter-spacing:0px">INTERNATIONAL MONETARY FUND</div>
<div class="a" style="left:1119px;top:2493.5px;font-size:36px;line-height:40px;color:#fff;letter-spacing:0.9px"><b>IMF</b>.org<b>/</b>pubs</div>
</body></html>
